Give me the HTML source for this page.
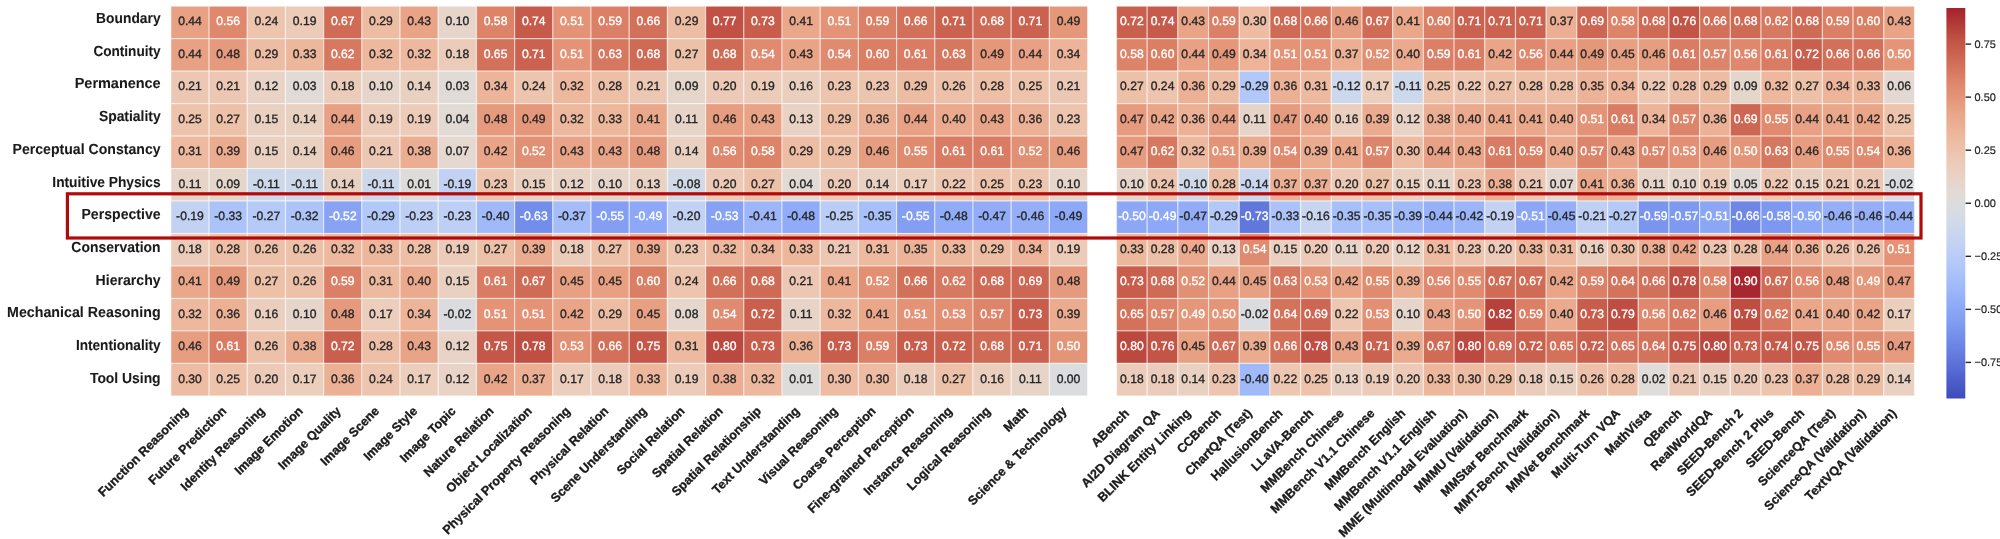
<!DOCTYPE html><html><head><meta charset="utf-8"><title>Heatmap</title>
<style>html,body{margin:0;padding:0;background:#fff}svg{display:block;filter:blur(.4px)}text{font-family:"Liberation Sans",Arial,Helvetica,sans-serif;text-rendering:geometricPrecision}.a{font-size:122.0px;text-anchor:middle;stroke-width:3.5px}.d{fill:#262626;stroke:#262626}.w{fill:#ffffff;stroke:#ffffff}.yl{font-size:147.0px;font-weight:bold;text-anchor:end;fill:#1a1a1a;stroke:#1a1a1a;stroke-width:.8px}.xl{font-size:126.0px;font-weight:bold;text-anchor:end;fill:#1a1a1a;stroke:#1a1a1a;stroke-width:3.5px}.cb{font-size:110px;fill:#262626;stroke:#262626;stroke-width:2px}</style></head><body>
<svg width="2000" height="539" viewBox="0 0 2000 539">
<rect width="2000" height="539" fill="#ffffff"/>
<g stroke="#ffffff" stroke-width="1.2" stroke-opacity="0.5"><rect x="170.90" y="6.20" width="38.20" height="32.48" fill="#e8a184"/><rect x="209.10" y="6.20" width="38.20" height="32.48" fill="#df886d"/><rect x="247.29" y="6.20" width="38.20" height="32.48" fill="#edc4ae"/><rect x="285.49" y="6.20" width="38.20" height="32.48" fill="#eccbb8"/><rect x="323.68" y="6.20" width="38.20" height="32.48" fill="#d06c56"/><rect x="361.88" y="6.20" width="38.20" height="32.48" fill="#edbda3"/><rect x="400.08" y="6.20" width="38.20" height="32.48" fill="#e9a487"/><rect x="438.27" y="6.20" width="38.20" height="32.48" fill="#e6d5cb"/><rect x="476.47" y="6.20" width="38.20" height="32.48" fill="#dd8368"/><rect x="514.66" y="6.20" width="38.20" height="32.48" fill="#c75b4b"/><rect x="552.86" y="6.20" width="38.20" height="32.48" fill="#e49377"/><rect x="591.05" y="6.20" width="38.20" height="32.48" fill="#db8066"/><rect x="629.25" y="6.20" width="38.20" height="32.48" fill="#d27059"/><rect x="667.45" y="6.20" width="38.20" height="32.48" fill="#edbda3"/><rect x="705.64" y="6.20" width="38.20" height="32.48" fill="#c05144"/><rect x="743.84" y="6.20" width="38.20" height="32.48" fill="#c85d4c"/><rect x="782.03" y="6.20" width="38.20" height="32.48" fill="#eaa78a"/><rect x="820.23" y="6.20" width="38.20" height="32.48" fill="#e49377"/><rect x="858.42" y="6.20" width="38.20" height="32.48" fill="#db8066"/><rect x="896.62" y="6.20" width="38.20" height="32.48" fill="#d27059"/><rect x="934.82" y="6.20" width="38.20" height="32.48" fill="#cb6250"/><rect x="973.01" y="6.20" width="38.20" height="32.48" fill="#cf6a55"/><rect x="1011.21" y="6.20" width="38.20" height="32.48" fill="#cb6250"/><rect x="1049.40" y="6.20" width="38.20" height="32.48" fill="#e5977a"/><rect x="170.90" y="38.68" width="38.20" height="32.48" fill="#e8a184"/><rect x="209.10" y="38.68" width="38.20" height="32.48" fill="#e69a7d"/><rect x="247.29" y="38.68" width="38.20" height="32.48" fill="#edbda3"/><rect x="285.49" y="38.68" width="38.20" height="32.48" fill="#edb79c"/><rect x="323.68" y="38.68" width="38.20" height="32.48" fill="#d77960"/><rect x="361.88" y="38.68" width="38.20" height="32.48" fill="#edb89d"/><rect x="400.08" y="38.68" width="38.20" height="32.48" fill="#edb89d"/><rect x="438.27" y="38.68" width="38.20" height="32.48" fill="#ebccba"/><rect x="476.47" y="38.68" width="38.20" height="32.48" fill="#d3715b"/><rect x="514.66" y="38.68" width="38.20" height="32.48" fill="#cb6250"/><rect x="552.86" y="38.68" width="38.20" height="32.48" fill="#e49377"/><rect x="591.05" y="38.68" width="38.20" height="32.48" fill="#d6775f"/><rect x="629.25" y="38.68" width="38.20" height="32.48" fill="#cf6a55"/><rect x="667.45" y="38.68" width="38.20" height="32.48" fill="#edc0a8"/><rect x="705.64" y="38.68" width="38.20" height="32.48" fill="#cf6a55"/><rect x="743.84" y="38.68" width="38.20" height="32.48" fill="#e08b70"/><rect x="782.03" y="38.68" width="38.20" height="32.48" fill="#e9a487"/><rect x="820.23" y="38.68" width="38.20" height="32.48" fill="#e08b70"/><rect x="858.42" y="38.68" width="38.20" height="32.48" fill="#da7e64"/><rect x="896.62" y="38.68" width="38.20" height="32.48" fill="#d97c63"/><rect x="934.82" y="38.68" width="38.20" height="32.48" fill="#d6775f"/><rect x="973.01" y="38.68" width="38.20" height="32.48" fill="#e5977a"/><rect x="1011.21" y="38.68" width="38.20" height="32.48" fill="#e8a184"/><rect x="1049.40" y="38.68" width="38.20" height="32.48" fill="#edb499"/><rect x="170.90" y="71.15" width="38.20" height="32.48" fill="#ecc8b4"/><rect x="209.10" y="71.15" width="38.20" height="32.48" fill="#ecc8b4"/><rect x="247.29" y="71.15" width="38.20" height="32.48" fill="#e8d3c6"/><rect x="285.49" y="71.15" width="38.20" height="32.48" fill="#e0dbd7"/><rect x="323.68" y="71.15" width="38.20" height="32.48" fill="#ebccba"/><rect x="361.88" y="71.15" width="38.20" height="32.48" fill="#e6d5cb"/><rect x="400.08" y="71.15" width="38.20" height="32.48" fill="#e9d1c2"/><rect x="438.27" y="71.15" width="38.20" height="32.48" fill="#e0dbd7"/><rect x="476.47" y="71.15" width="38.20" height="32.48" fill="#edb499"/><rect x="514.66" y="71.15" width="38.20" height="32.48" fill="#edc4ae"/><rect x="552.86" y="71.15" width="38.20" height="32.48" fill="#edb89d"/><rect x="591.05" y="71.15" width="38.20" height="32.48" fill="#edbfa6"/><rect x="629.25" y="71.15" width="38.20" height="32.48" fill="#ecc8b4"/><rect x="667.45" y="71.15" width="38.20" height="32.48" fill="#e5d6cc"/><rect x="705.64" y="71.15" width="38.20" height="32.48" fill="#eccab7"/><rect x="743.84" y="71.15" width="38.20" height="32.48" fill="#eccbb8"/><rect x="782.03" y="71.15" width="38.20" height="32.48" fill="#eacfbe"/><rect x="820.23" y="71.15" width="38.20" height="32.48" fill="#edc5af"/><rect x="858.42" y="71.15" width="38.20" height="32.48" fill="#edc5af"/><rect x="896.62" y="71.15" width="38.20" height="32.48" fill="#edbda3"/><rect x="934.82" y="71.15" width="38.20" height="32.48" fill="#edc1a9"/><rect x="973.01" y="71.15" width="38.20" height="32.48" fill="#edbfa6"/><rect x="1011.21" y="71.15" width="38.20" height="32.48" fill="#edc3ac"/><rect x="1049.40" y="71.15" width="38.20" height="32.48" fill="#ecc8b4"/><rect x="170.90" y="103.63" width="38.20" height="32.48" fill="#edc3ac"/><rect x="209.10" y="103.63" width="38.20" height="32.48" fill="#edc0a8"/><rect x="247.29" y="103.63" width="38.20" height="32.48" fill="#e9d0c1"/><rect x="285.49" y="103.63" width="38.20" height="32.48" fill="#e9d1c2"/><rect x="323.68" y="103.63" width="38.20" height="32.48" fill="#e8a184"/><rect x="361.88" y="103.63" width="38.20" height="32.48" fill="#eccbb8"/><rect x="400.08" y="103.63" width="38.20" height="32.48" fill="#eccbb8"/><rect x="438.27" y="103.63" width="38.20" height="32.48" fill="#e1dad5"/><rect x="476.47" y="103.63" width="38.20" height="32.48" fill="#e69a7d"/><rect x="514.66" y="103.63" width="38.20" height="32.48" fill="#e5977a"/><rect x="552.86" y="103.63" width="38.20" height="32.48" fill="#edb89d"/><rect x="591.05" y="103.63" width="38.20" height="32.48" fill="#edb79c"/><rect x="629.25" y="103.63" width="38.20" height="32.48" fill="#eaa78a"/><rect x="667.45" y="103.63" width="38.20" height="32.48" fill="#e7d4c8"/><rect x="705.64" y="103.63" width="38.20" height="32.48" fill="#e79d80"/><rect x="743.84" y="103.63" width="38.20" height="32.48" fill="#e9a487"/><rect x="782.03" y="103.63" width="38.20" height="32.48" fill="#e9d2c4"/><rect x="820.23" y="103.63" width="38.20" height="32.48" fill="#edbda3"/><rect x="858.42" y="103.63" width="38.20" height="32.48" fill="#ecb095"/><rect x="896.62" y="103.63" width="38.20" height="32.48" fill="#e8a184"/><rect x="934.82" y="103.63" width="38.20" height="32.48" fill="#ebaa8d"/><rect x="973.01" y="103.63" width="38.20" height="32.48" fill="#e9a487"/><rect x="1011.21" y="103.63" width="38.20" height="32.48" fill="#ecb095"/><rect x="1049.40" y="103.63" width="38.20" height="32.48" fill="#edc5af"/><rect x="170.90" y="136.10" width="38.20" height="32.48" fill="#edb99f"/><rect x="209.10" y="136.10" width="38.20" height="32.48" fill="#ebab8f"/><rect x="247.29" y="136.10" width="38.20" height="32.48" fill="#e9d0c1"/><rect x="285.49" y="136.10" width="38.20" height="32.48" fill="#e9d1c2"/><rect x="323.68" y="136.10" width="38.20" height="32.48" fill="#e79d80"/><rect x="361.88" y="136.10" width="38.20" height="32.48" fill="#ecc8b4"/><rect x="400.08" y="136.10" width="38.20" height="32.48" fill="#ecae92"/><rect x="438.27" y="136.10" width="38.20" height="32.48" fill="#e4d8d0"/><rect x="476.47" y="136.10" width="38.20" height="32.48" fill="#eaa589"/><rect x="514.66" y="136.10" width="38.20" height="32.48" fill="#e29074"/><rect x="552.86" y="136.10" width="38.20" height="32.48" fill="#e9a487"/><rect x="591.05" y="136.10" width="38.20" height="32.48" fill="#e9a487"/><rect x="629.25" y="136.10" width="38.20" height="32.48" fill="#e69a7d"/><rect x="667.45" y="136.10" width="38.20" height="32.48" fill="#e9d1c2"/><rect x="705.64" y="136.10" width="38.20" height="32.48" fill="#df886d"/><rect x="743.84" y="136.10" width="38.20" height="32.48" fill="#dd8368"/><rect x="782.03" y="136.10" width="38.20" height="32.48" fill="#edbda3"/><rect x="820.23" y="136.10" width="38.20" height="32.48" fill="#edbda3"/><rect x="858.42" y="136.10" width="38.20" height="32.48" fill="#e79d80"/><rect x="896.62" y="136.10" width="38.20" height="32.48" fill="#e08a6e"/><rect x="934.82" y="136.10" width="38.20" height="32.48" fill="#d97c63"/><rect x="973.01" y="136.10" width="38.20" height="32.48" fill="#d97c63"/><rect x="1011.21" y="136.10" width="38.20" height="32.48" fill="#e29074"/><rect x="1049.40" y="136.10" width="38.20" height="32.48" fill="#e79d80"/><rect x="170.90" y="168.57" width="38.20" height="32.48" fill="#e7d4c8"/><rect x="209.10" y="168.57" width="38.20" height="32.48" fill="#e5d6cc"/><rect x="247.29" y="168.57" width="38.20" height="32.48" fill="#ced8eb"/><rect x="285.49" y="168.57" width="38.20" height="32.48" fill="#ced8eb"/><rect x="323.68" y="168.57" width="38.20" height="32.48" fill="#e9d1c2"/><rect x="361.88" y="168.57" width="38.20" height="32.48" fill="#ced8eb"/><rect x="400.08" y="168.57" width="38.20" height="32.48" fill="#dedcdb"/><rect x="438.27" y="168.57" width="38.20" height="32.48" fill="#c3d2f3"/><rect x="476.47" y="168.57" width="38.20" height="32.48" fill="#edc5af"/><rect x="514.66" y="168.57" width="38.20" height="32.48" fill="#e9d0c1"/><rect x="552.86" y="168.57" width="38.20" height="32.48" fill="#e8d3c6"/><rect x="591.05" y="168.57" width="38.20" height="32.48" fill="#e6d5cb"/><rect x="629.25" y="168.57" width="38.20" height="32.48" fill="#e9d2c4"/><rect x="667.45" y="168.57" width="38.20" height="32.48" fill="#d2dae8"/><rect x="705.64" y="168.57" width="38.20" height="32.48" fill="#eccab7"/><rect x="743.84" y="168.57" width="38.20" height="32.48" fill="#edc0a8"/><rect x="782.03" y="168.57" width="38.20" height="32.48" fill="#e1dad5"/><rect x="820.23" y="168.57" width="38.20" height="32.48" fill="#eccab7"/><rect x="858.42" y="168.57" width="38.20" height="32.48" fill="#e9d1c2"/><rect x="896.62" y="168.57" width="38.20" height="32.48" fill="#ebcebc"/><rect x="934.82" y="168.57" width="38.20" height="32.48" fill="#edc7b2"/><rect x="973.01" y="168.57" width="38.20" height="32.48" fill="#edc3ac"/><rect x="1011.21" y="168.57" width="38.20" height="32.48" fill="#edc5af"/><rect x="1049.40" y="168.57" width="38.20" height="32.48" fill="#e6d5cb"/><rect x="170.90" y="201.05" width="38.20" height="32.48" fill="#c3d2f3"/><rect x="209.10" y="201.05" width="38.20" height="32.48" fill="#acc3f9"/><rect x="247.29" y="201.05" width="38.20" height="32.48" fill="#b6caf7"/><rect x="285.49" y="201.05" width="38.20" height="32.48" fill="#adc4f9"/><rect x="323.68" y="201.05" width="38.20" height="32.48" fill="#88a3f4"/><rect x="361.88" y="201.05" width="38.20" height="32.48" fill="#b2c8f8"/><rect x="400.08" y="201.05" width="38.20" height="32.48" fill="#bdcff5"/><rect x="438.27" y="201.05" width="38.20" height="32.48" fill="#bdcff5"/><rect x="476.47" y="201.05" width="38.20" height="32.48" fill="#9fb9f9"/><rect x="514.66" y="201.05" width="38.20" height="32.48" fill="#738eea"/><rect x="552.86" y="201.05" width="38.20" height="32.48" fill="#a4bdf9"/><rect x="591.05" y="201.05" width="38.20" height="32.48" fill="#839ef2"/><rect x="629.25" y="201.05" width="38.20" height="32.48" fill="#8da8f6"/><rect x="667.45" y="201.05" width="38.20" height="32.48" fill="#c2d2f3"/><rect x="705.64" y="201.05" width="38.20" height="32.48" fill="#87a2f4"/><rect x="743.84" y="201.05" width="38.20" height="32.48" fill="#9cb6f9"/><rect x="782.03" y="201.05" width="38.20" height="32.48" fill="#90abf7"/><rect x="820.23" y="201.05" width="38.20" height="32.48" fill="#b9cdf6"/><rect x="858.42" y="201.05" width="38.20" height="32.48" fill="#a8c0fa"/><rect x="896.62" y="201.05" width="38.20" height="32.48" fill="#839ef2"/><rect x="934.82" y="201.05" width="38.20" height="32.48" fill="#90abf7"/><rect x="973.01" y="201.05" width="38.20" height="32.48" fill="#92acf7"/><rect x="1011.21" y="201.05" width="38.20" height="32.48" fill="#94aff8"/><rect x="1049.40" y="201.05" width="38.20" height="32.48" fill="#8da8f6"/><rect x="170.90" y="233.53" width="38.20" height="32.48" fill="#ebccba"/><rect x="209.10" y="233.53" width="38.20" height="32.48" fill="#edbfa6"/><rect x="247.29" y="233.53" width="38.20" height="32.48" fill="#edc1a9"/><rect x="285.49" y="233.53" width="38.20" height="32.48" fill="#edc1a9"/><rect x="323.68" y="233.53" width="38.20" height="32.48" fill="#edb89d"/><rect x="361.88" y="233.53" width="38.20" height="32.48" fill="#edb79c"/><rect x="400.08" y="233.53" width="38.20" height="32.48" fill="#edbfa6"/><rect x="438.27" y="233.53" width="38.20" height="32.48" fill="#eccbb8"/><rect x="476.47" y="233.53" width="38.20" height="32.48" fill="#edc0a8"/><rect x="514.66" y="233.53" width="38.20" height="32.48" fill="#ebab8f"/><rect x="552.86" y="233.53" width="38.20" height="32.48" fill="#ebccba"/><rect x="591.05" y="233.53" width="38.20" height="32.48" fill="#edc0a8"/><rect x="629.25" y="233.53" width="38.20" height="32.48" fill="#ebab8f"/><rect x="667.45" y="233.53" width="38.20" height="32.48" fill="#edc5af"/><rect x="705.64" y="233.53" width="38.20" height="32.48" fill="#edb89d"/><rect x="743.84" y="233.53" width="38.20" height="32.48" fill="#edb499"/><rect x="782.03" y="233.53" width="38.20" height="32.48" fill="#edb79c"/><rect x="820.23" y="233.53" width="38.20" height="32.48" fill="#ecc8b4"/><rect x="858.42" y="233.53" width="38.20" height="32.48" fill="#edb99f"/><rect x="896.62" y="233.53" width="38.20" height="32.48" fill="#edb398"/><rect x="934.82" y="233.53" width="38.20" height="32.48" fill="#edb79c"/><rect x="973.01" y="233.53" width="38.20" height="32.48" fill="#edbda3"/><rect x="1011.21" y="233.53" width="38.20" height="32.48" fill="#edb499"/><rect x="1049.40" y="233.53" width="38.20" height="32.48" fill="#eccbb8"/><rect x="170.90" y="266.00" width="38.20" height="32.48" fill="#eaa78a"/><rect x="209.10" y="266.00" width="38.20" height="32.48" fill="#e5977a"/><rect x="247.29" y="266.00" width="38.20" height="32.48" fill="#edc0a8"/><rect x="285.49" y="266.00" width="38.20" height="32.48" fill="#edc1a9"/><rect x="323.68" y="266.00" width="38.20" height="32.48" fill="#db8066"/><rect x="361.88" y="266.00" width="38.20" height="32.48" fill="#edb99f"/><rect x="400.08" y="266.00" width="38.20" height="32.48" fill="#ebaa8d"/><rect x="438.27" y="266.00" width="38.20" height="32.48" fill="#e9d0c1"/><rect x="476.47" y="266.00" width="38.20" height="32.48" fill="#d97c63"/><rect x="514.66" y="266.00" width="38.20" height="32.48" fill="#d06c56"/><rect x="552.86" y="266.00" width="38.20" height="32.48" fill="#e8a083"/><rect x="591.05" y="266.00" width="38.20" height="32.48" fill="#e8a083"/><rect x="629.25" y="266.00" width="38.20" height="32.48" fill="#da7e64"/><rect x="667.45" y="266.00" width="38.20" height="32.48" fill="#edc4ae"/><rect x="705.64" y="266.00" width="38.20" height="32.48" fill="#d27059"/><rect x="743.84" y="266.00" width="38.20" height="32.48" fill="#cf6a55"/><rect x="782.03" y="266.00" width="38.20" height="32.48" fill="#ecc8b4"/><rect x="820.23" y="266.00" width="38.20" height="32.48" fill="#eaa78a"/><rect x="858.42" y="266.00" width="38.20" height="32.48" fill="#e29074"/><rect x="896.62" y="266.00" width="38.20" height="32.48" fill="#d27059"/><rect x="934.82" y="266.00" width="38.20" height="32.48" fill="#d77960"/><rect x="973.01" y="266.00" width="38.20" height="32.48" fill="#cf6a55"/><rect x="1011.21" y="266.00" width="38.20" height="32.48" fill="#cd6652"/><rect x="1049.40" y="266.00" width="38.20" height="32.48" fill="#e69a7d"/><rect x="170.90" y="298.48" width="38.20" height="32.48" fill="#edb89d"/><rect x="209.10" y="298.48" width="38.20" height="32.48" fill="#ecb095"/><rect x="247.29" y="298.48" width="38.20" height="32.48" fill="#eacfbe"/><rect x="285.49" y="298.48" width="38.20" height="32.48" fill="#e6d5cb"/><rect x="323.68" y="298.48" width="38.20" height="32.48" fill="#e69a7d"/><rect x="361.88" y="298.48" width="38.20" height="32.48" fill="#ebcebc"/><rect x="400.08" y="298.48" width="38.20" height="32.48" fill="#edb499"/><rect x="438.27" y="298.48" width="38.20" height="32.48" fill="#dadcdf"/><rect x="476.47" y="298.48" width="38.20" height="32.48" fill="#e49377"/><rect x="514.66" y="298.48" width="38.20" height="32.48" fill="#e49377"/><rect x="552.86" y="298.48" width="38.20" height="32.48" fill="#eaa589"/><rect x="591.05" y="298.48" width="38.20" height="32.48" fill="#edbda3"/><rect x="629.25" y="298.48" width="38.20" height="32.48" fill="#e8a083"/><rect x="667.45" y="298.48" width="38.20" height="32.48" fill="#e5d7cd"/><rect x="705.64" y="298.48" width="38.20" height="32.48" fill="#e08b70"/><rect x="743.84" y="298.48" width="38.20" height="32.48" fill="#c95f4d"/><rect x="782.03" y="298.48" width="38.20" height="32.48" fill="#e7d4c8"/><rect x="820.23" y="298.48" width="38.20" height="32.48" fill="#edb89d"/><rect x="858.42" y="298.48" width="38.20" height="32.48" fill="#eaa78a"/><rect x="896.62" y="298.48" width="38.20" height="32.48" fill="#e49377"/><rect x="934.82" y="298.48" width="38.20" height="32.48" fill="#e28f73"/><rect x="973.01" y="298.48" width="38.20" height="32.48" fill="#dd856a"/><rect x="1011.21" y="298.48" width="38.20" height="32.48" fill="#c85d4c"/><rect x="1049.40" y="298.48" width="38.20" height="32.48" fill="#ebab8f"/><rect x="170.90" y="330.95" width="38.20" height="32.48" fill="#e79d80"/><rect x="209.10" y="330.95" width="38.20" height="32.48" fill="#d97c63"/><rect x="247.29" y="330.95" width="38.20" height="32.48" fill="#edc1a9"/><rect x="285.49" y="330.95" width="38.20" height="32.48" fill="#ecae92"/><rect x="323.68" y="330.95" width="38.20" height="32.48" fill="#c95f4d"/><rect x="361.88" y="330.95" width="38.20" height="32.48" fill="#edbfa6"/><rect x="400.08" y="330.95" width="38.20" height="32.48" fill="#e9a487"/><rect x="438.27" y="330.95" width="38.20" height="32.48" fill="#e8d3c6"/><rect x="476.47" y="330.95" width="38.20" height="32.48" fill="#c45748"/><rect x="514.66" y="330.95" width="38.20" height="32.48" fill="#bf4f43"/><rect x="552.86" y="330.95" width="38.20" height="32.48" fill="#e28f73"/><rect x="591.05" y="330.95" width="38.20" height="32.48" fill="#d27059"/><rect x="629.25" y="330.95" width="38.20" height="32.48" fill="#c45748"/><rect x="667.45" y="330.95" width="38.20" height="32.48" fill="#edb99f"/><rect x="705.64" y="330.95" width="38.20" height="32.48" fill="#bb493f"/><rect x="743.84" y="330.95" width="38.20" height="32.48" fill="#c85d4c"/><rect x="782.03" y="330.95" width="38.20" height="32.48" fill="#ecb095"/><rect x="820.23" y="330.95" width="38.20" height="32.48" fill="#c85d4c"/><rect x="858.42" y="330.95" width="38.20" height="32.48" fill="#db8066"/><rect x="896.62" y="330.95" width="38.20" height="32.48" fill="#c85d4c"/><rect x="934.82" y="330.95" width="38.20" height="32.48" fill="#c95f4d"/><rect x="973.01" y="330.95" width="38.20" height="32.48" fill="#cf6a55"/><rect x="1011.21" y="330.95" width="38.20" height="32.48" fill="#cb6250"/><rect x="1049.40" y="330.95" width="38.20" height="32.48" fill="#e49578"/><rect x="170.90" y="363.43" width="38.20" height="32.48" fill="#edbca2"/><rect x="209.10" y="363.43" width="38.20" height="32.48" fill="#edc3ac"/><rect x="247.29" y="363.43" width="38.20" height="32.48" fill="#eccab7"/><rect x="285.49" y="363.43" width="38.20" height="32.48" fill="#ebcebc"/><rect x="323.68" y="363.43" width="38.20" height="32.48" fill="#ecb095"/><rect x="361.88" y="363.43" width="38.20" height="32.48" fill="#edc4ae"/><rect x="400.08" y="363.43" width="38.20" height="32.48" fill="#ebcebc"/><rect x="438.27" y="363.43" width="38.20" height="32.48" fill="#e8d3c6"/><rect x="476.47" y="363.43" width="38.20" height="32.48" fill="#eaa589"/><rect x="514.66" y="363.43" width="38.20" height="32.48" fill="#ecaf93"/><rect x="552.86" y="363.43" width="38.20" height="32.48" fill="#ebcebc"/><rect x="591.05" y="363.43" width="38.20" height="32.48" fill="#ebccba"/><rect x="629.25" y="363.43" width="38.20" height="32.48" fill="#edb79c"/><rect x="667.45" y="363.43" width="38.20" height="32.48" fill="#eccbb8"/><rect x="705.64" y="363.43" width="38.20" height="32.48" fill="#ecae92"/><rect x="743.84" y="363.43" width="38.20" height="32.48" fill="#edb89d"/><rect x="782.03" y="363.43" width="38.20" height="32.48" fill="#dedcdb"/><rect x="820.23" y="363.43" width="38.20" height="32.48" fill="#edbca2"/><rect x="858.42" y="363.43" width="38.20" height="32.48" fill="#edbca2"/><rect x="896.62" y="363.43" width="38.20" height="32.48" fill="#ebccba"/><rect x="934.82" y="363.43" width="38.20" height="32.48" fill="#edc0a8"/><rect x="973.01" y="363.43" width="38.20" height="32.48" fill="#eacfbe"/><rect x="1011.21" y="363.43" width="38.20" height="32.48" fill="#e7d4c8"/><rect x="1049.40" y="363.43" width="38.20" height="32.48" fill="#dadcdf"/><rect x="1116.50" y="6.20" width="30.69" height="32.48" fill="#c95f4d"/><rect x="1147.19" y="6.20" width="30.69" height="32.48" fill="#c75b4b"/><rect x="1177.88" y="6.20" width="30.69" height="32.48" fill="#e9a487"/><rect x="1208.58" y="6.20" width="30.69" height="32.48" fill="#db8066"/><rect x="1239.27" y="6.20" width="30.69" height="32.48" fill="#edbca2"/><rect x="1269.96" y="6.20" width="30.69" height="32.48" fill="#cf6a55"/><rect x="1300.65" y="6.20" width="30.69" height="32.48" fill="#d27059"/><rect x="1331.35" y="6.20" width="30.69" height="32.48" fill="#e79d80"/><rect x="1362.04" y="6.20" width="30.69" height="32.48" fill="#d06c56"/><rect x="1392.73" y="6.20" width="30.69" height="32.48" fill="#eaa78a"/><rect x="1423.42" y="6.20" width="30.69" height="32.48" fill="#da7e64"/><rect x="1454.12" y="6.20" width="30.69" height="32.48" fill="#cb6250"/><rect x="1484.81" y="6.20" width="30.69" height="32.48" fill="#cb6250"/><rect x="1515.50" y="6.20" width="30.69" height="32.48" fill="#cb6250"/><rect x="1546.19" y="6.20" width="30.69" height="32.48" fill="#ecaf93"/><rect x="1576.88" y="6.20" width="30.69" height="32.48" fill="#cd6652"/><rect x="1607.58" y="6.20" width="30.69" height="32.48" fill="#dd8368"/><rect x="1638.27" y="6.20" width="30.69" height="32.48" fill="#cf6a55"/><rect x="1668.96" y="6.20" width="30.69" height="32.48" fill="#c35547"/><rect x="1699.65" y="6.20" width="30.69" height="32.48" fill="#d27059"/><rect x="1730.35" y="6.20" width="30.69" height="32.48" fill="#cf6a55"/><rect x="1761.04" y="6.20" width="30.69" height="32.48" fill="#d77960"/><rect x="1791.73" y="6.20" width="30.69" height="32.48" fill="#cf6a55"/><rect x="1822.42" y="6.20" width="30.69" height="32.48" fill="#db8066"/><rect x="1853.12" y="6.20" width="30.69" height="32.48" fill="#da7e64"/><rect x="1883.81" y="6.20" width="30.69" height="32.48" fill="#e9a487"/><rect x="1116.50" y="38.68" width="30.69" height="32.48" fill="#dd8368"/><rect x="1147.19" y="38.68" width="30.69" height="32.48" fill="#da7e64"/><rect x="1177.88" y="38.68" width="30.69" height="32.48" fill="#e8a184"/><rect x="1208.58" y="38.68" width="30.69" height="32.48" fill="#e5977a"/><rect x="1239.27" y="38.68" width="30.69" height="32.48" fill="#edb499"/><rect x="1269.96" y="38.68" width="30.69" height="32.48" fill="#e49377"/><rect x="1300.65" y="38.68" width="30.69" height="32.48" fill="#e49377"/><rect x="1331.35" y="38.68" width="30.69" height="32.48" fill="#ecaf93"/><rect x="1362.04" y="38.68" width="30.69" height="32.48" fill="#e29074"/><rect x="1392.73" y="38.68" width="30.69" height="32.48" fill="#ebaa8d"/><rect x="1423.42" y="38.68" width="30.69" height="32.48" fill="#db8066"/><rect x="1454.12" y="38.68" width="30.69" height="32.48" fill="#d97c63"/><rect x="1484.81" y="38.68" width="30.69" height="32.48" fill="#eaa589"/><rect x="1515.50" y="38.68" width="30.69" height="32.48" fill="#df886d"/><rect x="1546.19" y="38.68" width="30.69" height="32.48" fill="#e8a184"/><rect x="1576.88" y="38.68" width="30.69" height="32.48" fill="#e5977a"/><rect x="1607.58" y="38.68" width="30.69" height="32.48" fill="#e8a083"/><rect x="1638.27" y="38.68" width="30.69" height="32.48" fill="#e79d80"/><rect x="1668.96" y="38.68" width="30.69" height="32.48" fill="#d97c63"/><rect x="1699.65" y="38.68" width="30.69" height="32.48" fill="#dd856a"/><rect x="1730.35" y="38.68" width="30.69" height="32.48" fill="#df886d"/><rect x="1761.04" y="38.68" width="30.69" height="32.48" fill="#d97c63"/><rect x="1791.73" y="38.68" width="30.69" height="32.48" fill="#c95f4d"/><rect x="1822.42" y="38.68" width="30.69" height="32.48" fill="#d27059"/><rect x="1853.12" y="38.68" width="30.69" height="32.48" fill="#d27059"/><rect x="1883.81" y="38.68" width="30.69" height="32.48" fill="#e49578"/><rect x="1116.50" y="71.15" width="30.69" height="32.48" fill="#edc0a8"/><rect x="1147.19" y="71.15" width="30.69" height="32.48" fill="#edc4ae"/><rect x="1177.88" y="71.15" width="30.69" height="32.48" fill="#ecb095"/><rect x="1208.58" y="71.15" width="30.69" height="32.48" fill="#edbda3"/><rect x="1239.27" y="71.15" width="30.69" height="32.48" fill="#b2c8f8"/><rect x="1269.96" y="71.15" width="30.69" height="32.48" fill="#ecb095"/><rect x="1300.65" y="71.15" width="30.69" height="32.48" fill="#edb99f"/><rect x="1331.35" y="71.15" width="30.69" height="32.48" fill="#cdd8ec"/><rect x="1362.04" y="71.15" width="30.69" height="32.48" fill="#ebcebc"/><rect x="1392.73" y="71.15" width="30.69" height="32.48" fill="#ced8eb"/><rect x="1423.42" y="71.15" width="30.69" height="32.48" fill="#edc3ac"/><rect x="1454.12" y="71.15" width="30.69" height="32.48" fill="#edc7b2"/><rect x="1484.81" y="71.15" width="30.69" height="32.48" fill="#edc0a8"/><rect x="1515.50" y="71.15" width="30.69" height="32.48" fill="#edbfa6"/><rect x="1546.19" y="71.15" width="30.69" height="32.48" fill="#edbfa6"/><rect x="1576.88" y="71.15" width="30.69" height="32.48" fill="#edb398"/><rect x="1607.58" y="71.15" width="30.69" height="32.48" fill="#edb499"/><rect x="1638.27" y="71.15" width="30.69" height="32.48" fill="#edc7b2"/><rect x="1668.96" y="71.15" width="30.69" height="32.48" fill="#edbfa6"/><rect x="1699.65" y="71.15" width="30.69" height="32.48" fill="#edbda3"/><rect x="1730.35" y="71.15" width="30.69" height="32.48" fill="#e5d6cc"/><rect x="1761.04" y="71.15" width="30.69" height="32.48" fill="#edb89d"/><rect x="1791.73" y="71.15" width="30.69" height="32.48" fill="#edc0a8"/><rect x="1822.42" y="71.15" width="30.69" height="32.48" fill="#edb499"/><rect x="1853.12" y="71.15" width="30.69" height="32.48" fill="#edb79c"/><rect x="1883.81" y="71.15" width="30.69" height="32.48" fill="#e3d9d2"/><rect x="1116.50" y="103.63" width="30.69" height="32.48" fill="#e79b7e"/><rect x="1147.19" y="103.63" width="30.69" height="32.48" fill="#eaa589"/><rect x="1177.88" y="103.63" width="30.69" height="32.48" fill="#ecb095"/><rect x="1208.58" y="103.63" width="30.69" height="32.48" fill="#e8a184"/><rect x="1239.27" y="103.63" width="30.69" height="32.48" fill="#e7d4c8"/><rect x="1269.96" y="103.63" width="30.69" height="32.48" fill="#e79b7e"/><rect x="1300.65" y="103.63" width="30.69" height="32.48" fill="#ebaa8d"/><rect x="1331.35" y="103.63" width="30.69" height="32.48" fill="#eacfbe"/><rect x="1362.04" y="103.63" width="30.69" height="32.48" fill="#ebab8f"/><rect x="1392.73" y="103.63" width="30.69" height="32.48" fill="#e8d3c6"/><rect x="1423.42" y="103.63" width="30.69" height="32.48" fill="#ecae92"/><rect x="1454.12" y="103.63" width="30.69" height="32.48" fill="#ebaa8d"/><rect x="1484.81" y="103.63" width="30.69" height="32.48" fill="#eaa78a"/><rect x="1515.50" y="103.63" width="30.69" height="32.48" fill="#eaa78a"/><rect x="1546.19" y="103.63" width="30.69" height="32.48" fill="#ebaa8d"/><rect x="1576.88" y="103.63" width="30.69" height="32.48" fill="#e49377"/><rect x="1607.58" y="103.63" width="30.69" height="32.48" fill="#d97c63"/><rect x="1638.27" y="103.63" width="30.69" height="32.48" fill="#edb499"/><rect x="1668.96" y="103.63" width="30.69" height="32.48" fill="#dd856a"/><rect x="1699.65" y="103.63" width="30.69" height="32.48" fill="#ecb095"/><rect x="1730.35" y="103.63" width="30.69" height="32.48" fill="#cd6652"/><rect x="1761.04" y="103.63" width="30.69" height="32.48" fill="#e08a6e"/><rect x="1791.73" y="103.63" width="30.69" height="32.48" fill="#e8a184"/><rect x="1822.42" y="103.63" width="30.69" height="32.48" fill="#eaa78a"/><rect x="1853.12" y="103.63" width="30.69" height="32.48" fill="#eaa589"/><rect x="1883.81" y="103.63" width="30.69" height="32.48" fill="#edc3ac"/><rect x="1116.50" y="136.10" width="30.69" height="32.48" fill="#e79b7e"/><rect x="1147.19" y="136.10" width="30.69" height="32.48" fill="#d77960"/><rect x="1177.88" y="136.10" width="30.69" height="32.48" fill="#edb89d"/><rect x="1208.58" y="136.10" width="30.69" height="32.48" fill="#e49377"/><rect x="1239.27" y="136.10" width="30.69" height="32.48" fill="#ebab8f"/><rect x="1269.96" y="136.10" width="30.69" height="32.48" fill="#e08b70"/><rect x="1300.65" y="136.10" width="30.69" height="32.48" fill="#ebab8f"/><rect x="1331.35" y="136.10" width="30.69" height="32.48" fill="#eaa78a"/><rect x="1362.04" y="136.10" width="30.69" height="32.48" fill="#dd856a"/><rect x="1392.73" y="136.10" width="30.69" height="32.48" fill="#edbca2"/><rect x="1423.42" y="136.10" width="30.69" height="32.48" fill="#e8a184"/><rect x="1454.12" y="136.10" width="30.69" height="32.48" fill="#e9a487"/><rect x="1484.81" y="136.10" width="30.69" height="32.48" fill="#d97c63"/><rect x="1515.50" y="136.10" width="30.69" height="32.48" fill="#db8066"/><rect x="1546.19" y="136.10" width="30.69" height="32.48" fill="#ebaa8d"/><rect x="1576.88" y="136.10" width="30.69" height="32.48" fill="#dd856a"/><rect x="1607.58" y="136.10" width="30.69" height="32.48" fill="#e9a487"/><rect x="1638.27" y="136.10" width="30.69" height="32.48" fill="#dd856a"/><rect x="1668.96" y="136.10" width="30.69" height="32.48" fill="#e28f73"/><rect x="1699.65" y="136.10" width="30.69" height="32.48" fill="#e79d80"/><rect x="1730.35" y="136.10" width="30.69" height="32.48" fill="#e49578"/><rect x="1761.04" y="136.10" width="30.69" height="32.48" fill="#d6775f"/><rect x="1791.73" y="136.10" width="30.69" height="32.48" fill="#e79d80"/><rect x="1822.42" y="136.10" width="30.69" height="32.48" fill="#e08a6e"/><rect x="1853.12" y="136.10" width="30.69" height="32.48" fill="#e08b70"/><rect x="1883.81" y="136.10" width="30.69" height="32.48" fill="#ecb095"/><rect x="1116.50" y="168.57" width="30.69" height="32.48" fill="#e6d5cb"/><rect x="1147.19" y="168.57" width="30.69" height="32.48" fill="#edc4ae"/><rect x="1177.88" y="168.57" width="30.69" height="32.48" fill="#d0d9ea"/><rect x="1208.58" y="168.57" width="30.69" height="32.48" fill="#edbfa6"/><rect x="1239.27" y="168.57" width="30.69" height="32.48" fill="#cad6ee"/><rect x="1269.96" y="168.57" width="30.69" height="32.48" fill="#ecaf93"/><rect x="1300.65" y="168.57" width="30.69" height="32.48" fill="#ecaf93"/><rect x="1331.35" y="168.57" width="30.69" height="32.48" fill="#eccab7"/><rect x="1362.04" y="168.57" width="30.69" height="32.48" fill="#edc0a8"/><rect x="1392.73" y="168.57" width="30.69" height="32.48" fill="#e9d0c1"/><rect x="1423.42" y="168.57" width="30.69" height="32.48" fill="#e7d4c8"/><rect x="1454.12" y="168.57" width="30.69" height="32.48" fill="#edc5af"/><rect x="1484.81" y="168.57" width="30.69" height="32.48" fill="#ecae92"/><rect x="1515.50" y="168.57" width="30.69" height="32.48" fill="#ecc8b4"/><rect x="1546.19" y="168.57" width="30.69" height="32.48" fill="#e4d8d0"/><rect x="1576.88" y="168.57" width="30.69" height="32.48" fill="#eaa78a"/><rect x="1607.58" y="168.57" width="30.69" height="32.48" fill="#ecb095"/><rect x="1638.27" y="168.57" width="30.69" height="32.48" fill="#e7d4c8"/><rect x="1668.96" y="168.57" width="30.69" height="32.48" fill="#e6d5cb"/><rect x="1699.65" y="168.57" width="30.69" height="32.48" fill="#eccbb8"/><rect x="1730.35" y="168.57" width="30.69" height="32.48" fill="#e2dad4"/><rect x="1761.04" y="168.57" width="30.69" height="32.48" fill="#edc7b2"/><rect x="1791.73" y="168.57" width="30.69" height="32.48" fill="#e9d0c1"/><rect x="1822.42" y="168.57" width="30.69" height="32.48" fill="#ecc8b4"/><rect x="1853.12" y="168.57" width="30.69" height="32.48" fill="#ecc8b4"/><rect x="1883.81" y="168.57" width="30.69" height="32.48" fill="#dadcdf"/><rect x="1116.50" y="201.05" width="30.69" height="32.48" fill="#8ca7f6"/><rect x="1147.19" y="201.05" width="30.69" height="32.48" fill="#8da8f6"/><rect x="1177.88" y="201.05" width="30.69" height="32.48" fill="#92acf7"/><rect x="1208.58" y="201.05" width="30.69" height="32.48" fill="#b2c8f8"/><rect x="1239.27" y="201.05" width="30.69" height="32.48" fill="#6078dc"/><rect x="1269.96" y="201.05" width="30.69" height="32.48" fill="#acc3f9"/><rect x="1300.65" y="201.05" width="30.69" height="32.48" fill="#c7d5f0"/><rect x="1331.35" y="201.05" width="30.69" height="32.48" fill="#a8c0fa"/><rect x="1362.04" y="201.05" width="30.69" height="32.48" fill="#a8c0fa"/><rect x="1392.73" y="201.05" width="30.69" height="32.48" fill="#a0baf9"/><rect x="1423.42" y="201.05" width="30.69" height="32.48" fill="#97b1f8"/><rect x="1454.12" y="201.05" width="30.69" height="32.48" fill="#9bb5f9"/><rect x="1484.81" y="201.05" width="30.69" height="32.48" fill="#c3d2f3"/><rect x="1515.50" y="201.05" width="30.69" height="32.48" fill="#8ba6f5"/><rect x="1546.19" y="201.05" width="30.69" height="32.48" fill="#96b0f8"/><rect x="1576.88" y="201.05" width="30.69" height="32.48" fill="#bfd0f4"/><rect x="1607.58" y="201.05" width="30.69" height="32.48" fill="#b6caf7"/><rect x="1638.27" y="201.05" width="30.69" height="32.48" fill="#7a95ee"/><rect x="1668.96" y="201.05" width="30.69" height="32.48" fill="#7e99f0"/><rect x="1699.65" y="201.05" width="30.69" height="32.48" fill="#8ba6f5"/><rect x="1730.35" y="201.05" width="30.69" height="32.48" fill="#6e87e7"/><rect x="1761.04" y="201.05" width="30.69" height="32.48" fill="#7d98f0"/><rect x="1791.73" y="201.05" width="30.69" height="32.48" fill="#8ca7f6"/><rect x="1822.42" y="201.05" width="30.69" height="32.48" fill="#94aff8"/><rect x="1853.12" y="201.05" width="30.69" height="32.48" fill="#94aff8"/><rect x="1883.81" y="201.05" width="30.69" height="32.48" fill="#97b1f8"/><rect x="1116.50" y="233.53" width="30.69" height="32.48" fill="#edb79c"/><rect x="1147.19" y="233.53" width="30.69" height="32.48" fill="#edbfa6"/><rect x="1177.88" y="233.53" width="30.69" height="32.48" fill="#ebaa8d"/><rect x="1208.58" y="233.53" width="30.69" height="32.48" fill="#e9d2c4"/><rect x="1239.27" y="233.53" width="30.69" height="32.48" fill="#e08b70"/><rect x="1269.96" y="233.53" width="30.69" height="32.48" fill="#e9d0c1"/><rect x="1300.65" y="233.53" width="30.69" height="32.48" fill="#eccab7"/><rect x="1331.35" y="233.53" width="30.69" height="32.48" fill="#e7d4c8"/><rect x="1362.04" y="233.53" width="30.69" height="32.48" fill="#eccab7"/><rect x="1392.73" y="233.53" width="30.69" height="32.48" fill="#e8d3c6"/><rect x="1423.42" y="233.53" width="30.69" height="32.48" fill="#edb99f"/><rect x="1454.12" y="233.53" width="30.69" height="32.48" fill="#edc5af"/><rect x="1484.81" y="233.53" width="30.69" height="32.48" fill="#eccab7"/><rect x="1515.50" y="233.53" width="30.69" height="32.48" fill="#edb79c"/><rect x="1546.19" y="233.53" width="30.69" height="32.48" fill="#edb99f"/><rect x="1576.88" y="233.53" width="30.69" height="32.48" fill="#eacfbe"/><rect x="1607.58" y="233.53" width="30.69" height="32.48" fill="#edbca2"/><rect x="1638.27" y="233.53" width="30.69" height="32.48" fill="#ecae92"/><rect x="1668.96" y="233.53" width="30.69" height="32.48" fill="#eaa589"/><rect x="1699.65" y="233.53" width="30.69" height="32.48" fill="#edc5af"/><rect x="1730.35" y="233.53" width="30.69" height="32.48" fill="#edbfa6"/><rect x="1761.04" y="233.53" width="30.69" height="32.48" fill="#e8a184"/><rect x="1791.73" y="233.53" width="30.69" height="32.48" fill="#ecb095"/><rect x="1822.42" y="233.53" width="30.69" height="32.48" fill="#edc1a9"/><rect x="1853.12" y="233.53" width="30.69" height="32.48" fill="#edc1a9"/><rect x="1883.81" y="233.53" width="30.69" height="32.48" fill="#e49377"/><rect x="1116.50" y="266.00" width="30.69" height="32.48" fill="#c85d4c"/><rect x="1147.19" y="266.00" width="30.69" height="32.48" fill="#cf6a55"/><rect x="1177.88" y="266.00" width="30.69" height="32.48" fill="#e29074"/><rect x="1208.58" y="266.00" width="30.69" height="32.48" fill="#e8a184"/><rect x="1239.27" y="266.00" width="30.69" height="32.48" fill="#e8a083"/><rect x="1269.96" y="266.00" width="30.69" height="32.48" fill="#d6775f"/><rect x="1300.65" y="266.00" width="30.69" height="32.48" fill="#e28f73"/><rect x="1331.35" y="266.00" width="30.69" height="32.48" fill="#eaa589"/><rect x="1362.04" y="266.00" width="30.69" height="32.48" fill="#e08a6e"/><rect x="1392.73" y="266.00" width="30.69" height="32.48" fill="#ebab8f"/><rect x="1423.42" y="266.00" width="30.69" height="32.48" fill="#df886d"/><rect x="1454.12" y="266.00" width="30.69" height="32.48" fill="#e08a6e"/><rect x="1484.81" y="266.00" width="30.69" height="32.48" fill="#d06c56"/><rect x="1515.50" y="266.00" width="30.69" height="32.48" fill="#d06c56"/><rect x="1546.19" y="266.00" width="30.69" height="32.48" fill="#eaa589"/><rect x="1576.88" y="266.00" width="30.69" height="32.48" fill="#db8066"/><rect x="1607.58" y="266.00" width="30.69" height="32.48" fill="#d4735c"/><rect x="1638.27" y="266.00" width="30.69" height="32.48" fill="#d27059"/><rect x="1668.96" y="266.00" width="30.69" height="32.48" fill="#bf4f43"/><rect x="1699.65" y="266.00" width="30.69" height="32.48" fill="#dd8368"/><rect x="1730.35" y="266.00" width="30.69" height="32.48" fill="#a8262f"/><rect x="1761.04" y="266.00" width="30.69" height="32.48" fill="#d06c56"/><rect x="1791.73" y="266.00" width="30.69" height="32.48" fill="#df886d"/><rect x="1822.42" y="266.00" width="30.69" height="32.48" fill="#e69a7d"/><rect x="1853.12" y="266.00" width="30.69" height="32.48" fill="#e5977a"/><rect x="1883.81" y="266.00" width="30.69" height="32.48" fill="#e79b7e"/><rect x="1116.50" y="298.48" width="30.69" height="32.48" fill="#d3715b"/><rect x="1147.19" y="298.48" width="30.69" height="32.48" fill="#dd856a"/><rect x="1177.88" y="298.48" width="30.69" height="32.48" fill="#e5977a"/><rect x="1208.58" y="298.48" width="30.69" height="32.48" fill="#e49578"/><rect x="1239.27" y="298.48" width="30.69" height="32.48" fill="#dadcdf"/><rect x="1269.96" y="298.48" width="30.69" height="32.48" fill="#d4735c"/><rect x="1300.65" y="298.48" width="30.69" height="32.48" fill="#cd6652"/><rect x="1331.35" y="298.48" width="30.69" height="32.48" fill="#edc7b2"/><rect x="1362.04" y="298.48" width="30.69" height="32.48" fill="#e28f73"/><rect x="1392.73" y="298.48" width="30.69" height="32.48" fill="#e6d5cb"/><rect x="1423.42" y="298.48" width="30.69" height="32.48" fill="#e9a487"/><rect x="1454.12" y="298.48" width="30.69" height="32.48" fill="#e49578"/><rect x="1484.81" y="298.48" width="30.69" height="32.48" fill="#b7423c"/><rect x="1515.50" y="298.48" width="30.69" height="32.48" fill="#db8066"/><rect x="1546.19" y="298.48" width="30.69" height="32.48" fill="#ebaa8d"/><rect x="1576.88" y="298.48" width="30.69" height="32.48" fill="#c85d4c"/><rect x="1607.58" y="298.48" width="30.69" height="32.48" fill="#be4d42"/><rect x="1638.27" y="298.48" width="30.69" height="32.48" fill="#df886d"/><rect x="1668.96" y="298.48" width="30.69" height="32.48" fill="#d77960"/><rect x="1699.65" y="298.48" width="30.69" height="32.48" fill="#e79d80"/><rect x="1730.35" y="298.48" width="30.69" height="32.48" fill="#be4d42"/><rect x="1761.04" y="298.48" width="30.69" height="32.48" fill="#d77960"/><rect x="1791.73" y="298.48" width="30.69" height="32.48" fill="#eaa78a"/><rect x="1822.42" y="298.48" width="30.69" height="32.48" fill="#ebaa8d"/><rect x="1853.12" y="298.48" width="30.69" height="32.48" fill="#eaa589"/><rect x="1883.81" y="298.48" width="30.69" height="32.48" fill="#ebcebc"/><rect x="1116.50" y="330.95" width="30.69" height="32.48" fill="#bb493f"/><rect x="1147.19" y="330.95" width="30.69" height="32.48" fill="#c35547"/><rect x="1177.88" y="330.95" width="30.69" height="32.48" fill="#e8a083"/><rect x="1208.58" y="330.95" width="30.69" height="32.48" fill="#d06c56"/><rect x="1239.27" y="330.95" width="30.69" height="32.48" fill="#ebab8f"/><rect x="1269.96" y="330.95" width="30.69" height="32.48" fill="#d27059"/><rect x="1300.65" y="330.95" width="30.69" height="32.48" fill="#bf4f43"/><rect x="1331.35" y="330.95" width="30.69" height="32.48" fill="#e9a487"/><rect x="1362.04" y="330.95" width="30.69" height="32.48" fill="#cb6250"/><rect x="1392.73" y="330.95" width="30.69" height="32.48" fill="#ebab8f"/><rect x="1423.42" y="330.95" width="30.69" height="32.48" fill="#d06c56"/><rect x="1454.12" y="330.95" width="30.69" height="32.48" fill="#bb493f"/><rect x="1484.81" y="330.95" width="30.69" height="32.48" fill="#cd6652"/><rect x="1515.50" y="330.95" width="30.69" height="32.48" fill="#c95f4d"/><rect x="1546.19" y="330.95" width="30.69" height="32.48" fill="#d3715b"/><rect x="1576.88" y="330.95" width="30.69" height="32.48" fill="#c95f4d"/><rect x="1607.58" y="330.95" width="30.69" height="32.48" fill="#d3715b"/><rect x="1638.27" y="330.95" width="30.69" height="32.48" fill="#d4735c"/><rect x="1668.96" y="330.95" width="30.69" height="32.48" fill="#c45748"/><rect x="1699.65" y="330.95" width="30.69" height="32.48" fill="#bb493f"/><rect x="1730.35" y="330.95" width="30.69" height="32.48" fill="#c85d4c"/><rect x="1761.04" y="330.95" width="30.69" height="32.48" fill="#c75b4b"/><rect x="1791.73" y="330.95" width="30.69" height="32.48" fill="#c45748"/><rect x="1822.42" y="330.95" width="30.69" height="32.48" fill="#df886d"/><rect x="1853.12" y="330.95" width="30.69" height="32.48" fill="#e08a6e"/><rect x="1883.81" y="330.95" width="30.69" height="32.48" fill="#e79b7e"/><rect x="1116.50" y="363.43" width="30.69" height="32.48" fill="#ebccba"/><rect x="1147.19" y="363.43" width="30.69" height="32.48" fill="#ebccba"/><rect x="1177.88" y="363.43" width="30.69" height="32.48" fill="#e9d1c2"/><rect x="1208.58" y="363.43" width="30.69" height="32.48" fill="#edc5af"/><rect x="1239.27" y="363.43" width="30.69" height="32.48" fill="#9fb9f9"/><rect x="1269.96" y="363.43" width="30.69" height="32.48" fill="#edc7b2"/><rect x="1300.65" y="363.43" width="30.69" height="32.48" fill="#edc3ac"/><rect x="1331.35" y="363.43" width="30.69" height="32.48" fill="#e9d2c4"/><rect x="1362.04" y="363.43" width="30.69" height="32.48" fill="#eccbb8"/><rect x="1392.73" y="363.43" width="30.69" height="32.48" fill="#eccab7"/><rect x="1423.42" y="363.43" width="30.69" height="32.48" fill="#edb79c"/><rect x="1454.12" y="363.43" width="30.69" height="32.48" fill="#edbca2"/><rect x="1484.81" y="363.43" width="30.69" height="32.48" fill="#edbda3"/><rect x="1515.50" y="363.43" width="30.69" height="32.48" fill="#ebccba"/><rect x="1546.19" y="363.43" width="30.69" height="32.48" fill="#e9d0c1"/><rect x="1576.88" y="363.43" width="30.69" height="32.48" fill="#edc1a9"/><rect x="1607.58" y="363.43" width="30.69" height="32.48" fill="#edbfa6"/><rect x="1638.27" y="363.43" width="30.69" height="32.48" fill="#dfdcd9"/><rect x="1668.96" y="363.43" width="30.69" height="32.48" fill="#ecc8b4"/><rect x="1699.65" y="363.43" width="30.69" height="32.48" fill="#e9d0c1"/><rect x="1730.35" y="363.43" width="30.69" height="32.48" fill="#eccab7"/><rect x="1761.04" y="363.43" width="30.69" height="32.48" fill="#edc5af"/><rect x="1791.73" y="363.43" width="30.69" height="32.48" fill="#ecaf93"/><rect x="1822.42" y="363.43" width="30.69" height="32.48" fill="#edbfa6"/><rect x="1853.12" y="363.43" width="30.69" height="32.48" fill="#edbda3"/><rect x="1883.81" y="363.43" width="30.69" height="32.48" fill="#e9d1c2"/></g>
<g><text class="a d" transform="translate(190.00 25.00) scale(.1)">0.44</text><text class="a w" transform="translate(228.19 25.00) scale(.1)">0.56</text><text class="a d" transform="translate(266.39 25.00) scale(.1)">0.24</text><text class="a d" transform="translate(304.59 25.00) scale(.1)">0.19</text><text class="a w" transform="translate(342.78 25.00) scale(.1)">0.67</text><text class="a d" transform="translate(380.98 25.00) scale(.1)">0.29</text><text class="a d" transform="translate(419.17 25.00) scale(.1)">0.43</text><text class="a d" transform="translate(457.37 25.00) scale(.1)">0.10</text><text class="a w" transform="translate(495.56 25.00) scale(.1)">0.58</text><text class="a w" transform="translate(533.76 25.00) scale(.1)">0.74</text><text class="a w" transform="translate(571.96 25.00) scale(.1)">0.51</text><text class="a w" transform="translate(610.15 25.00) scale(.1)">0.59</text><text class="a w" transform="translate(648.35 25.00) scale(.1)">0.66</text><text class="a d" transform="translate(686.54 25.00) scale(.1)">0.29</text><text class="a w" transform="translate(724.74 25.00) scale(.1)">0.77</text><text class="a w" transform="translate(762.94 25.00) scale(.1)">0.73</text><text class="a d" transform="translate(801.13 25.00) scale(.1)">0.41</text><text class="a w" transform="translate(839.33 25.00) scale(.1)">0.51</text><text class="a w" transform="translate(877.52 25.00) scale(.1)">0.59</text><text class="a w" transform="translate(915.72 25.00) scale(.1)">0.66</text><text class="a w" transform="translate(953.91 25.00) scale(.1)">0.71</text><text class="a w" transform="translate(992.11 25.00) scale(.1)">0.68</text><text class="a w" transform="translate(1030.31 25.00) scale(.1)">0.71</text><text class="a d" transform="translate(1068.50 25.00) scale(.1)">0.49</text><text class="a d" transform="translate(190.00 57.53) scale(.1)">0.44</text><text class="a d" transform="translate(228.19 57.53) scale(.1)">0.48</text><text class="a d" transform="translate(266.39 57.53) scale(.1)">0.29</text><text class="a d" transform="translate(304.59 57.53) scale(.1)">0.33</text><text class="a w" transform="translate(342.78 57.53) scale(.1)">0.62</text><text class="a d" transform="translate(380.98 57.53) scale(.1)">0.32</text><text class="a d" transform="translate(419.17 57.53) scale(.1)">0.32</text><text class="a d" transform="translate(457.37 57.53) scale(.1)">0.18</text><text class="a w" transform="translate(495.56 57.53) scale(.1)">0.65</text><text class="a w" transform="translate(533.76 57.53) scale(.1)">0.71</text><text class="a w" transform="translate(571.96 57.53) scale(.1)">0.51</text><text class="a w" transform="translate(610.15 57.53) scale(.1)">0.63</text><text class="a w" transform="translate(648.35 57.53) scale(.1)">0.68</text><text class="a d" transform="translate(686.54 57.53) scale(.1)">0.27</text><text class="a w" transform="translate(724.74 57.53) scale(.1)">0.68</text><text class="a w" transform="translate(762.94 57.53) scale(.1)">0.54</text><text class="a d" transform="translate(801.13 57.53) scale(.1)">0.43</text><text class="a w" transform="translate(839.33 57.53) scale(.1)">0.54</text><text class="a w" transform="translate(877.52 57.53) scale(.1)">0.60</text><text class="a w" transform="translate(915.72 57.53) scale(.1)">0.61</text><text class="a w" transform="translate(953.91 57.53) scale(.1)">0.63</text><text class="a d" transform="translate(992.11 57.53) scale(.1)">0.49</text><text class="a d" transform="translate(1030.31 57.53) scale(.1)">0.44</text><text class="a d" transform="translate(1068.50 57.53) scale(.1)">0.34</text><text class="a d" transform="translate(190.00 90.06) scale(.1)">0.21</text><text class="a d" transform="translate(228.19 90.06) scale(.1)">0.21</text><text class="a d" transform="translate(266.39 90.06) scale(.1)">0.12</text><text class="a d" transform="translate(304.59 90.06) scale(.1)">0.03</text><text class="a d" transform="translate(342.78 90.06) scale(.1)">0.18</text><text class="a d" transform="translate(380.98 90.06) scale(.1)">0.10</text><text class="a d" transform="translate(419.17 90.06) scale(.1)">0.14</text><text class="a d" transform="translate(457.37 90.06) scale(.1)">0.03</text><text class="a d" transform="translate(495.56 90.06) scale(.1)">0.34</text><text class="a d" transform="translate(533.76 90.06) scale(.1)">0.24</text><text class="a d" transform="translate(571.96 90.06) scale(.1)">0.32</text><text class="a d" transform="translate(610.15 90.06) scale(.1)">0.28</text><text class="a d" transform="translate(648.35 90.06) scale(.1)">0.21</text><text class="a d" transform="translate(686.54 90.06) scale(.1)">0.09</text><text class="a d" transform="translate(724.74 90.06) scale(.1)">0.20</text><text class="a d" transform="translate(762.94 90.06) scale(.1)">0.19</text><text class="a d" transform="translate(801.13 90.06) scale(.1)">0.16</text><text class="a d" transform="translate(839.33 90.06) scale(.1)">0.23</text><text class="a d" transform="translate(877.52 90.06) scale(.1)">0.23</text><text class="a d" transform="translate(915.72 90.06) scale(.1)">0.29</text><text class="a d" transform="translate(953.91 90.06) scale(.1)">0.26</text><text class="a d" transform="translate(992.11 90.06) scale(.1)">0.28</text><text class="a d" transform="translate(1030.31 90.06) scale(.1)">0.25</text><text class="a d" transform="translate(1068.50 90.06) scale(.1)">0.21</text><text class="a d" transform="translate(190.00 122.59) scale(.1)">0.25</text><text class="a d" transform="translate(228.19 122.59) scale(.1)">0.27</text><text class="a d" transform="translate(266.39 122.59) scale(.1)">0.15</text><text class="a d" transform="translate(304.59 122.59) scale(.1)">0.14</text><text class="a d" transform="translate(342.78 122.59) scale(.1)">0.44</text><text class="a d" transform="translate(380.98 122.59) scale(.1)">0.19</text><text class="a d" transform="translate(419.17 122.59) scale(.1)">0.19</text><text class="a d" transform="translate(457.37 122.59) scale(.1)">0.04</text><text class="a d" transform="translate(495.56 122.59) scale(.1)">0.48</text><text class="a d" transform="translate(533.76 122.59) scale(.1)">0.49</text><text class="a d" transform="translate(571.96 122.59) scale(.1)">0.32</text><text class="a d" transform="translate(610.15 122.59) scale(.1)">0.33</text><text class="a d" transform="translate(648.35 122.59) scale(.1)">0.41</text><text class="a d" transform="translate(686.54 122.59) scale(.1)">0.11</text><text class="a d" transform="translate(724.74 122.59) scale(.1)">0.46</text><text class="a d" transform="translate(762.94 122.59) scale(.1)">0.43</text><text class="a d" transform="translate(801.13 122.59) scale(.1)">0.13</text><text class="a d" transform="translate(839.33 122.59) scale(.1)">0.29</text><text class="a d" transform="translate(877.52 122.59) scale(.1)">0.36</text><text class="a d" transform="translate(915.72 122.59) scale(.1)">0.44</text><text class="a d" transform="translate(953.91 122.59) scale(.1)">0.40</text><text class="a d" transform="translate(992.11 122.59) scale(.1)">0.43</text><text class="a d" transform="translate(1030.31 122.59) scale(.1)">0.36</text><text class="a d" transform="translate(1068.50 122.59) scale(.1)">0.23</text><text class="a d" transform="translate(190.00 155.12) scale(.1)">0.31</text><text class="a d" transform="translate(228.19 155.12) scale(.1)">0.39</text><text class="a d" transform="translate(266.39 155.12) scale(.1)">0.15</text><text class="a d" transform="translate(304.59 155.12) scale(.1)">0.14</text><text class="a d" transform="translate(342.78 155.12) scale(.1)">0.46</text><text class="a d" transform="translate(380.98 155.12) scale(.1)">0.21</text><text class="a d" transform="translate(419.17 155.12) scale(.1)">0.38</text><text class="a d" transform="translate(457.37 155.12) scale(.1)">0.07</text><text class="a d" transform="translate(495.56 155.12) scale(.1)">0.42</text><text class="a w" transform="translate(533.76 155.12) scale(.1)">0.52</text><text class="a d" transform="translate(571.96 155.12) scale(.1)">0.43</text><text class="a d" transform="translate(610.15 155.12) scale(.1)">0.43</text><text class="a d" transform="translate(648.35 155.12) scale(.1)">0.48</text><text class="a d" transform="translate(686.54 155.12) scale(.1)">0.14</text><text class="a w" transform="translate(724.74 155.12) scale(.1)">0.56</text><text class="a w" transform="translate(762.94 155.12) scale(.1)">0.58</text><text class="a d" transform="translate(801.13 155.12) scale(.1)">0.29</text><text class="a d" transform="translate(839.33 155.12) scale(.1)">0.29</text><text class="a d" transform="translate(877.52 155.12) scale(.1)">0.46</text><text class="a w" transform="translate(915.72 155.12) scale(.1)">0.55</text><text class="a w" transform="translate(953.91 155.12) scale(.1)">0.61</text><text class="a w" transform="translate(992.11 155.12) scale(.1)">0.61</text><text class="a w" transform="translate(1030.31 155.12) scale(.1)">0.52</text><text class="a d" transform="translate(1068.50 155.12) scale(.1)">0.46</text><text class="a d" transform="translate(190.00 187.65) scale(.1)">0.11</text><text class="a d" transform="translate(228.19 187.65) scale(.1)">0.09</text><text class="a d" transform="translate(266.39 187.65) scale(.1)">-0.11</text><text class="a d" transform="translate(304.59 187.65) scale(.1)">-0.11</text><text class="a d" transform="translate(342.78 187.65) scale(.1)">0.14</text><text class="a d" transform="translate(380.98 187.65) scale(.1)">-0.11</text><text class="a d" transform="translate(419.17 187.65) scale(.1)">0.01</text><text class="a d" transform="translate(457.37 187.65) scale(.1)">-0.19</text><text class="a d" transform="translate(495.56 187.65) scale(.1)">0.23</text><text class="a d" transform="translate(533.76 187.65) scale(.1)">0.15</text><text class="a d" transform="translate(571.96 187.65) scale(.1)">0.12</text><text class="a d" transform="translate(610.15 187.65) scale(.1)">0.10</text><text class="a d" transform="translate(648.35 187.65) scale(.1)">0.13</text><text class="a d" transform="translate(686.54 187.65) scale(.1)">-0.08</text><text class="a d" transform="translate(724.74 187.65) scale(.1)">0.20</text><text class="a d" transform="translate(762.94 187.65) scale(.1)">0.27</text><text class="a d" transform="translate(801.13 187.65) scale(.1)">0.04</text><text class="a d" transform="translate(839.33 187.65) scale(.1)">0.20</text><text class="a d" transform="translate(877.52 187.65) scale(.1)">0.14</text><text class="a d" transform="translate(915.72 187.65) scale(.1)">0.17</text><text class="a d" transform="translate(953.91 187.65) scale(.1)">0.22</text><text class="a d" transform="translate(992.11 187.65) scale(.1)">0.25</text><text class="a d" transform="translate(1030.31 187.65) scale(.1)">0.23</text><text class="a d" transform="translate(1068.50 187.65) scale(.1)">0.10</text><text class="a d" transform="translate(190.00 220.18) scale(.1)">-0.19</text><text class="a d" transform="translate(228.19 220.18) scale(.1)">-0.33</text><text class="a d" transform="translate(266.39 220.18) scale(.1)">-0.27</text><text class="a d" transform="translate(304.59 220.18) scale(.1)">-0.32</text><text class="a w" transform="translate(342.78 220.18) scale(.1)">-0.52</text><text class="a d" transform="translate(380.98 220.18) scale(.1)">-0.29</text><text class="a d" transform="translate(419.17 220.18) scale(.1)">-0.23</text><text class="a d" transform="translate(457.37 220.18) scale(.1)">-0.23</text><text class="a d" transform="translate(495.56 220.18) scale(.1)">-0.40</text><text class="a w" transform="translate(533.76 220.18) scale(.1)">-0.63</text><text class="a d" transform="translate(571.96 220.18) scale(.1)">-0.37</text><text class="a w" transform="translate(610.15 220.18) scale(.1)">-0.55</text><text class="a w" transform="translate(648.35 220.18) scale(.1)">-0.49</text><text class="a d" transform="translate(686.54 220.18) scale(.1)">-0.20</text><text class="a w" transform="translate(724.74 220.18) scale(.1)">-0.53</text><text class="a d" transform="translate(762.94 220.18) scale(.1)">-0.41</text><text class="a d" transform="translate(801.13 220.18) scale(.1)">-0.48</text><text class="a d" transform="translate(839.33 220.18) scale(.1)">-0.25</text><text class="a d" transform="translate(877.52 220.18) scale(.1)">-0.35</text><text class="a w" transform="translate(915.72 220.18) scale(.1)">-0.55</text><text class="a d" transform="translate(953.91 220.18) scale(.1)">-0.48</text><text class="a d" transform="translate(992.11 220.18) scale(.1)">-0.47</text><text class="a d" transform="translate(1030.31 220.18) scale(.1)">-0.46</text><text class="a d" transform="translate(1068.50 220.18) scale(.1)">-0.49</text><text class="a d" transform="translate(190.00 252.71) scale(.1)">0.18</text><text class="a d" transform="translate(228.19 252.71) scale(.1)">0.28</text><text class="a d" transform="translate(266.39 252.71) scale(.1)">0.26</text><text class="a d" transform="translate(304.59 252.71) scale(.1)">0.26</text><text class="a d" transform="translate(342.78 252.71) scale(.1)">0.32</text><text class="a d" transform="translate(380.98 252.71) scale(.1)">0.33</text><text class="a d" transform="translate(419.17 252.71) scale(.1)">0.28</text><text class="a d" transform="translate(457.37 252.71) scale(.1)">0.19</text><text class="a d" transform="translate(495.56 252.71) scale(.1)">0.27</text><text class="a d" transform="translate(533.76 252.71) scale(.1)">0.39</text><text class="a d" transform="translate(571.96 252.71) scale(.1)">0.18</text><text class="a d" transform="translate(610.15 252.71) scale(.1)">0.27</text><text class="a d" transform="translate(648.35 252.71) scale(.1)">0.39</text><text class="a d" transform="translate(686.54 252.71) scale(.1)">0.23</text><text class="a d" transform="translate(724.74 252.71) scale(.1)">0.32</text><text class="a d" transform="translate(762.94 252.71) scale(.1)">0.34</text><text class="a d" transform="translate(801.13 252.71) scale(.1)">0.33</text><text class="a d" transform="translate(839.33 252.71) scale(.1)">0.21</text><text class="a d" transform="translate(877.52 252.71) scale(.1)">0.31</text><text class="a d" transform="translate(915.72 252.71) scale(.1)">0.35</text><text class="a d" transform="translate(953.91 252.71) scale(.1)">0.33</text><text class="a d" transform="translate(992.11 252.71) scale(.1)">0.29</text><text class="a d" transform="translate(1030.31 252.71) scale(.1)">0.34</text><text class="a d" transform="translate(1068.50 252.71) scale(.1)">0.19</text><text class="a d" transform="translate(190.00 285.24) scale(.1)">0.41</text><text class="a d" transform="translate(228.19 285.24) scale(.1)">0.49</text><text class="a d" transform="translate(266.39 285.24) scale(.1)">0.27</text><text class="a d" transform="translate(304.59 285.24) scale(.1)">0.26</text><text class="a w" transform="translate(342.78 285.24) scale(.1)">0.59</text><text class="a d" transform="translate(380.98 285.24) scale(.1)">0.31</text><text class="a d" transform="translate(419.17 285.24) scale(.1)">0.40</text><text class="a d" transform="translate(457.37 285.24) scale(.1)">0.15</text><text class="a w" transform="translate(495.56 285.24) scale(.1)">0.61</text><text class="a w" transform="translate(533.76 285.24) scale(.1)">0.67</text><text class="a d" transform="translate(571.96 285.24) scale(.1)">0.45</text><text class="a d" transform="translate(610.15 285.24) scale(.1)">0.45</text><text class="a w" transform="translate(648.35 285.24) scale(.1)">0.60</text><text class="a d" transform="translate(686.54 285.24) scale(.1)">0.24</text><text class="a w" transform="translate(724.74 285.24) scale(.1)">0.66</text><text class="a w" transform="translate(762.94 285.24) scale(.1)">0.68</text><text class="a d" transform="translate(801.13 285.24) scale(.1)">0.21</text><text class="a d" transform="translate(839.33 285.24) scale(.1)">0.41</text><text class="a w" transform="translate(877.52 285.24) scale(.1)">0.52</text><text class="a w" transform="translate(915.72 285.24) scale(.1)">0.66</text><text class="a w" transform="translate(953.91 285.24) scale(.1)">0.62</text><text class="a w" transform="translate(992.11 285.24) scale(.1)">0.68</text><text class="a w" transform="translate(1030.31 285.24) scale(.1)">0.69</text><text class="a d" transform="translate(1068.50 285.24) scale(.1)">0.48</text><text class="a d" transform="translate(190.00 317.77) scale(.1)">0.32</text><text class="a d" transform="translate(228.19 317.77) scale(.1)">0.36</text><text class="a d" transform="translate(266.39 317.77) scale(.1)">0.16</text><text class="a d" transform="translate(304.59 317.77) scale(.1)">0.10</text><text class="a d" transform="translate(342.78 317.77) scale(.1)">0.48</text><text class="a d" transform="translate(380.98 317.77) scale(.1)">0.17</text><text class="a d" transform="translate(419.17 317.77) scale(.1)">0.34</text><text class="a d" transform="translate(457.37 317.77) scale(.1)">-0.02</text><text class="a w" transform="translate(495.56 317.77) scale(.1)">0.51</text><text class="a w" transform="translate(533.76 317.77) scale(.1)">0.51</text><text class="a d" transform="translate(571.96 317.77) scale(.1)">0.42</text><text class="a d" transform="translate(610.15 317.77) scale(.1)">0.29</text><text class="a d" transform="translate(648.35 317.77) scale(.1)">0.45</text><text class="a d" transform="translate(686.54 317.77) scale(.1)">0.08</text><text class="a w" transform="translate(724.74 317.77) scale(.1)">0.54</text><text class="a w" transform="translate(762.94 317.77) scale(.1)">0.72</text><text class="a d" transform="translate(801.13 317.77) scale(.1)">0.11</text><text class="a d" transform="translate(839.33 317.77) scale(.1)">0.32</text><text class="a d" transform="translate(877.52 317.77) scale(.1)">0.41</text><text class="a w" transform="translate(915.72 317.77) scale(.1)">0.51</text><text class="a w" transform="translate(953.91 317.77) scale(.1)">0.53</text><text class="a w" transform="translate(992.11 317.77) scale(.1)">0.57</text><text class="a w" transform="translate(1030.31 317.77) scale(.1)">0.73</text><text class="a d" transform="translate(1068.50 317.77) scale(.1)">0.39</text><text class="a d" transform="translate(190.00 350.30) scale(.1)">0.46</text><text class="a w" transform="translate(228.19 350.30) scale(.1)">0.61</text><text class="a d" transform="translate(266.39 350.30) scale(.1)">0.26</text><text class="a d" transform="translate(304.59 350.30) scale(.1)">0.38</text><text class="a w" transform="translate(342.78 350.30) scale(.1)">0.72</text><text class="a d" transform="translate(380.98 350.30) scale(.1)">0.28</text><text class="a d" transform="translate(419.17 350.30) scale(.1)">0.43</text><text class="a d" transform="translate(457.37 350.30) scale(.1)">0.12</text><text class="a w" transform="translate(495.56 350.30) scale(.1)">0.75</text><text class="a w" transform="translate(533.76 350.30) scale(.1)">0.78</text><text class="a w" transform="translate(571.96 350.30) scale(.1)">0.53</text><text class="a w" transform="translate(610.15 350.30) scale(.1)">0.66</text><text class="a w" transform="translate(648.35 350.30) scale(.1)">0.75</text><text class="a d" transform="translate(686.54 350.30) scale(.1)">0.31</text><text class="a w" transform="translate(724.74 350.30) scale(.1)">0.80</text><text class="a w" transform="translate(762.94 350.30) scale(.1)">0.73</text><text class="a d" transform="translate(801.13 350.30) scale(.1)">0.36</text><text class="a w" transform="translate(839.33 350.30) scale(.1)">0.73</text><text class="a w" transform="translate(877.52 350.30) scale(.1)">0.59</text><text class="a w" transform="translate(915.72 350.30) scale(.1)">0.73</text><text class="a w" transform="translate(953.91 350.30) scale(.1)">0.72</text><text class="a w" transform="translate(992.11 350.30) scale(.1)">0.68</text><text class="a w" transform="translate(1030.31 350.30) scale(.1)">0.71</text><text class="a w" transform="translate(1068.50 350.30) scale(.1)">0.50</text><text class="a d" transform="translate(190.00 382.83) scale(.1)">0.30</text><text class="a d" transform="translate(228.19 382.83) scale(.1)">0.25</text><text class="a d" transform="translate(266.39 382.83) scale(.1)">0.20</text><text class="a d" transform="translate(304.59 382.83) scale(.1)">0.17</text><text class="a d" transform="translate(342.78 382.83) scale(.1)">0.36</text><text class="a d" transform="translate(380.98 382.83) scale(.1)">0.24</text><text class="a d" transform="translate(419.17 382.83) scale(.1)">0.17</text><text class="a d" transform="translate(457.37 382.83) scale(.1)">0.12</text><text class="a d" transform="translate(495.56 382.83) scale(.1)">0.42</text><text class="a d" transform="translate(533.76 382.83) scale(.1)">0.37</text><text class="a d" transform="translate(571.96 382.83) scale(.1)">0.17</text><text class="a d" transform="translate(610.15 382.83) scale(.1)">0.18</text><text class="a d" transform="translate(648.35 382.83) scale(.1)">0.33</text><text class="a d" transform="translate(686.54 382.83) scale(.1)">0.19</text><text class="a d" transform="translate(724.74 382.83) scale(.1)">0.38</text><text class="a d" transform="translate(762.94 382.83) scale(.1)">0.32</text><text class="a d" transform="translate(801.13 382.83) scale(.1)">0.01</text><text class="a d" transform="translate(839.33 382.83) scale(.1)">0.30</text><text class="a d" transform="translate(877.52 382.83) scale(.1)">0.30</text><text class="a d" transform="translate(915.72 382.83) scale(.1)">0.18</text><text class="a d" transform="translate(953.91 382.83) scale(.1)">0.27</text><text class="a d" transform="translate(992.11 382.83) scale(.1)">0.16</text><text class="a d" transform="translate(1030.31 382.83) scale(.1)">0.11</text><text class="a d" transform="translate(1068.50 382.83) scale(.1)">0.00</text><text class="a w" transform="translate(1131.85 25.00) scale(.1)">0.72</text><text class="a w" transform="translate(1162.54 25.00) scale(.1)">0.74</text><text class="a d" transform="translate(1193.23 25.00) scale(.1)">0.43</text><text class="a w" transform="translate(1223.92 25.00) scale(.1)">0.59</text><text class="a d" transform="translate(1254.62 25.00) scale(.1)">0.30</text><text class="a w" transform="translate(1285.31 25.00) scale(.1)">0.68</text><text class="a w" transform="translate(1316.00 25.00) scale(.1)">0.66</text><text class="a d" transform="translate(1346.69 25.00) scale(.1)">0.46</text><text class="a w" transform="translate(1377.38 25.00) scale(.1)">0.67</text><text class="a d" transform="translate(1408.08 25.00) scale(.1)">0.41</text><text class="a w" transform="translate(1438.77 25.00) scale(.1)">0.60</text><text class="a w" transform="translate(1469.46 25.00) scale(.1)">0.71</text><text class="a w" transform="translate(1500.15 25.00) scale(.1)">0.71</text><text class="a w" transform="translate(1530.85 25.00) scale(.1)">0.71</text><text class="a d" transform="translate(1561.54 25.00) scale(.1)">0.37</text><text class="a w" transform="translate(1592.23 25.00) scale(.1)">0.69</text><text class="a w" transform="translate(1622.92 25.00) scale(.1)">0.58</text><text class="a w" transform="translate(1653.62 25.00) scale(.1)">0.68</text><text class="a w" transform="translate(1684.31 25.00) scale(.1)">0.76</text><text class="a w" transform="translate(1715.00 25.00) scale(.1)">0.66</text><text class="a w" transform="translate(1745.69 25.00) scale(.1)">0.68</text><text class="a w" transform="translate(1776.38 25.00) scale(.1)">0.62</text><text class="a w" transform="translate(1807.08 25.00) scale(.1)">0.68</text><text class="a w" transform="translate(1837.77 25.00) scale(.1)">0.59</text><text class="a w" transform="translate(1868.46 25.00) scale(.1)">0.60</text><text class="a d" transform="translate(1899.15 25.00) scale(.1)">0.43</text><text class="a w" transform="translate(1131.85 57.53) scale(.1)">0.58</text><text class="a w" transform="translate(1162.54 57.53) scale(.1)">0.60</text><text class="a d" transform="translate(1193.23 57.53) scale(.1)">0.44</text><text class="a d" transform="translate(1223.92 57.53) scale(.1)">0.49</text><text class="a d" transform="translate(1254.62 57.53) scale(.1)">0.34</text><text class="a w" transform="translate(1285.31 57.53) scale(.1)">0.51</text><text class="a w" transform="translate(1316.00 57.53) scale(.1)">0.51</text><text class="a d" transform="translate(1346.69 57.53) scale(.1)">0.37</text><text class="a w" transform="translate(1377.38 57.53) scale(.1)">0.52</text><text class="a d" transform="translate(1408.08 57.53) scale(.1)">0.40</text><text class="a w" transform="translate(1438.77 57.53) scale(.1)">0.59</text><text class="a w" transform="translate(1469.46 57.53) scale(.1)">0.61</text><text class="a d" transform="translate(1500.15 57.53) scale(.1)">0.42</text><text class="a w" transform="translate(1530.85 57.53) scale(.1)">0.56</text><text class="a d" transform="translate(1561.54 57.53) scale(.1)">0.44</text><text class="a d" transform="translate(1592.23 57.53) scale(.1)">0.49</text><text class="a d" transform="translate(1622.92 57.53) scale(.1)">0.45</text><text class="a d" transform="translate(1653.62 57.53) scale(.1)">0.46</text><text class="a w" transform="translate(1684.31 57.53) scale(.1)">0.61</text><text class="a w" transform="translate(1715.00 57.53) scale(.1)">0.57</text><text class="a w" transform="translate(1745.69 57.53) scale(.1)">0.56</text><text class="a w" transform="translate(1776.38 57.53) scale(.1)">0.61</text><text class="a w" transform="translate(1807.08 57.53) scale(.1)">0.72</text><text class="a w" transform="translate(1837.77 57.53) scale(.1)">0.66</text><text class="a w" transform="translate(1868.46 57.53) scale(.1)">0.66</text><text class="a w" transform="translate(1899.15 57.53) scale(.1)">0.50</text><text class="a d" transform="translate(1131.85 90.06) scale(.1)">0.27</text><text class="a d" transform="translate(1162.54 90.06) scale(.1)">0.24</text><text class="a d" transform="translate(1193.23 90.06) scale(.1)">0.36</text><text class="a d" transform="translate(1223.92 90.06) scale(.1)">0.29</text><text class="a d" transform="translate(1254.62 90.06) scale(.1)">-0.29</text><text class="a d" transform="translate(1285.31 90.06) scale(.1)">0.36</text><text class="a d" transform="translate(1316.00 90.06) scale(.1)">0.31</text><text class="a d" transform="translate(1346.69 90.06) scale(.1)">-0.12</text><text class="a d" transform="translate(1377.38 90.06) scale(.1)">0.17</text><text class="a d" transform="translate(1408.08 90.06) scale(.1)">-0.11</text><text class="a d" transform="translate(1438.77 90.06) scale(.1)">0.25</text><text class="a d" transform="translate(1469.46 90.06) scale(.1)">0.22</text><text class="a d" transform="translate(1500.15 90.06) scale(.1)">0.27</text><text class="a d" transform="translate(1530.85 90.06) scale(.1)">0.28</text><text class="a d" transform="translate(1561.54 90.06) scale(.1)">0.28</text><text class="a d" transform="translate(1592.23 90.06) scale(.1)">0.35</text><text class="a d" transform="translate(1622.92 90.06) scale(.1)">0.34</text><text class="a d" transform="translate(1653.62 90.06) scale(.1)">0.22</text><text class="a d" transform="translate(1684.31 90.06) scale(.1)">0.28</text><text class="a d" transform="translate(1715.00 90.06) scale(.1)">0.29</text><text class="a d" transform="translate(1745.69 90.06) scale(.1)">0.09</text><text class="a d" transform="translate(1776.38 90.06) scale(.1)">0.32</text><text class="a d" transform="translate(1807.08 90.06) scale(.1)">0.27</text><text class="a d" transform="translate(1837.77 90.06) scale(.1)">0.34</text><text class="a d" transform="translate(1868.46 90.06) scale(.1)">0.33</text><text class="a d" transform="translate(1899.15 90.06) scale(.1)">0.06</text><text class="a d" transform="translate(1131.85 122.59) scale(.1)">0.47</text><text class="a d" transform="translate(1162.54 122.59) scale(.1)">0.42</text><text class="a d" transform="translate(1193.23 122.59) scale(.1)">0.36</text><text class="a d" transform="translate(1223.92 122.59) scale(.1)">0.44</text><text class="a d" transform="translate(1254.62 122.59) scale(.1)">0.11</text><text class="a d" transform="translate(1285.31 122.59) scale(.1)">0.47</text><text class="a d" transform="translate(1316.00 122.59) scale(.1)">0.40</text><text class="a d" transform="translate(1346.69 122.59) scale(.1)">0.16</text><text class="a d" transform="translate(1377.38 122.59) scale(.1)">0.39</text><text class="a d" transform="translate(1408.08 122.59) scale(.1)">0.12</text><text class="a d" transform="translate(1438.77 122.59) scale(.1)">0.38</text><text class="a d" transform="translate(1469.46 122.59) scale(.1)">0.40</text><text class="a d" transform="translate(1500.15 122.59) scale(.1)">0.41</text><text class="a d" transform="translate(1530.85 122.59) scale(.1)">0.41</text><text class="a d" transform="translate(1561.54 122.59) scale(.1)">0.40</text><text class="a w" transform="translate(1592.23 122.59) scale(.1)">0.51</text><text class="a w" transform="translate(1622.92 122.59) scale(.1)">0.61</text><text class="a d" transform="translate(1653.62 122.59) scale(.1)">0.34</text><text class="a w" transform="translate(1684.31 122.59) scale(.1)">0.57</text><text class="a d" transform="translate(1715.00 122.59) scale(.1)">0.36</text><text class="a w" transform="translate(1745.69 122.59) scale(.1)">0.69</text><text class="a w" transform="translate(1776.38 122.59) scale(.1)">0.55</text><text class="a d" transform="translate(1807.08 122.59) scale(.1)">0.44</text><text class="a d" transform="translate(1837.77 122.59) scale(.1)">0.41</text><text class="a d" transform="translate(1868.46 122.59) scale(.1)">0.42</text><text class="a d" transform="translate(1899.15 122.59) scale(.1)">0.25</text><text class="a d" transform="translate(1131.85 155.12) scale(.1)">0.47</text><text class="a w" transform="translate(1162.54 155.12) scale(.1)">0.62</text><text class="a d" transform="translate(1193.23 155.12) scale(.1)">0.32</text><text class="a w" transform="translate(1223.92 155.12) scale(.1)">0.51</text><text class="a d" transform="translate(1254.62 155.12) scale(.1)">0.39</text><text class="a w" transform="translate(1285.31 155.12) scale(.1)">0.54</text><text class="a d" transform="translate(1316.00 155.12) scale(.1)">0.39</text><text class="a d" transform="translate(1346.69 155.12) scale(.1)">0.41</text><text class="a w" transform="translate(1377.38 155.12) scale(.1)">0.57</text><text class="a d" transform="translate(1408.08 155.12) scale(.1)">0.30</text><text class="a d" transform="translate(1438.77 155.12) scale(.1)">0.44</text><text class="a d" transform="translate(1469.46 155.12) scale(.1)">0.43</text><text class="a w" transform="translate(1500.15 155.12) scale(.1)">0.61</text><text class="a w" transform="translate(1530.85 155.12) scale(.1)">0.59</text><text class="a d" transform="translate(1561.54 155.12) scale(.1)">0.40</text><text class="a w" transform="translate(1592.23 155.12) scale(.1)">0.57</text><text class="a d" transform="translate(1622.92 155.12) scale(.1)">0.43</text><text class="a w" transform="translate(1653.62 155.12) scale(.1)">0.57</text><text class="a w" transform="translate(1684.31 155.12) scale(.1)">0.53</text><text class="a d" transform="translate(1715.00 155.12) scale(.1)">0.46</text><text class="a w" transform="translate(1745.69 155.12) scale(.1)">0.50</text><text class="a w" transform="translate(1776.38 155.12) scale(.1)">0.63</text><text class="a d" transform="translate(1807.08 155.12) scale(.1)">0.46</text><text class="a w" transform="translate(1837.77 155.12) scale(.1)">0.55</text><text class="a w" transform="translate(1868.46 155.12) scale(.1)">0.54</text><text class="a d" transform="translate(1899.15 155.12) scale(.1)">0.36</text><text class="a d" transform="translate(1131.85 187.65) scale(.1)">0.10</text><text class="a d" transform="translate(1162.54 187.65) scale(.1)">0.24</text><text class="a d" transform="translate(1193.23 187.65) scale(.1)">-0.10</text><text class="a d" transform="translate(1223.92 187.65) scale(.1)">0.28</text><text class="a d" transform="translate(1254.62 187.65) scale(.1)">-0.14</text><text class="a d" transform="translate(1285.31 187.65) scale(.1)">0.37</text><text class="a d" transform="translate(1316.00 187.65) scale(.1)">0.37</text><text class="a d" transform="translate(1346.69 187.65) scale(.1)">0.20</text><text class="a d" transform="translate(1377.38 187.65) scale(.1)">0.27</text><text class="a d" transform="translate(1408.08 187.65) scale(.1)">0.15</text><text class="a d" transform="translate(1438.77 187.65) scale(.1)">0.11</text><text class="a d" transform="translate(1469.46 187.65) scale(.1)">0.23</text><text class="a d" transform="translate(1500.15 187.65) scale(.1)">0.38</text><text class="a d" transform="translate(1530.85 187.65) scale(.1)">0.21</text><text class="a d" transform="translate(1561.54 187.65) scale(.1)">0.07</text><text class="a d" transform="translate(1592.23 187.65) scale(.1)">0.41</text><text class="a d" transform="translate(1622.92 187.65) scale(.1)">0.36</text><text class="a d" transform="translate(1653.62 187.65) scale(.1)">0.11</text><text class="a d" transform="translate(1684.31 187.65) scale(.1)">0.10</text><text class="a d" transform="translate(1715.00 187.65) scale(.1)">0.19</text><text class="a d" transform="translate(1745.69 187.65) scale(.1)">0.05</text><text class="a d" transform="translate(1776.38 187.65) scale(.1)">0.22</text><text class="a d" transform="translate(1807.08 187.65) scale(.1)">0.15</text><text class="a d" transform="translate(1837.77 187.65) scale(.1)">0.21</text><text class="a d" transform="translate(1868.46 187.65) scale(.1)">0.21</text><text class="a d" transform="translate(1899.15 187.65) scale(.1)">-0.02</text><text class="a w" transform="translate(1131.85 220.18) scale(.1)">-0.50</text><text class="a w" transform="translate(1162.54 220.18) scale(.1)">-0.49</text><text class="a d" transform="translate(1193.23 220.18) scale(.1)">-0.47</text><text class="a d" transform="translate(1223.92 220.18) scale(.1)">-0.29</text><text class="a w" transform="translate(1254.62 220.18) scale(.1)">-0.73</text><text class="a d" transform="translate(1285.31 220.18) scale(.1)">-0.33</text><text class="a d" transform="translate(1316.00 220.18) scale(.1)">-0.16</text><text class="a d" transform="translate(1346.69 220.18) scale(.1)">-0.35</text><text class="a d" transform="translate(1377.38 220.18) scale(.1)">-0.35</text><text class="a d" transform="translate(1408.08 220.18) scale(.1)">-0.39</text><text class="a d" transform="translate(1438.77 220.18) scale(.1)">-0.44</text><text class="a d" transform="translate(1469.46 220.18) scale(.1)">-0.42</text><text class="a d" transform="translate(1500.15 220.18) scale(.1)">-0.19</text><text class="a w" transform="translate(1530.85 220.18) scale(.1)">-0.51</text><text class="a d" transform="translate(1561.54 220.18) scale(.1)">-0.45</text><text class="a d" transform="translate(1592.23 220.18) scale(.1)">-0.21</text><text class="a d" transform="translate(1622.92 220.18) scale(.1)">-0.27</text><text class="a w" transform="translate(1653.62 220.18) scale(.1)">-0.59</text><text class="a w" transform="translate(1684.31 220.18) scale(.1)">-0.57</text><text class="a w" transform="translate(1715.00 220.18) scale(.1)">-0.51</text><text class="a w" transform="translate(1745.69 220.18) scale(.1)">-0.66</text><text class="a w" transform="translate(1776.38 220.18) scale(.1)">-0.58</text><text class="a w" transform="translate(1807.08 220.18) scale(.1)">-0.50</text><text class="a d" transform="translate(1837.77 220.18) scale(.1)">-0.46</text><text class="a d" transform="translate(1868.46 220.18) scale(.1)">-0.46</text><text class="a d" transform="translate(1899.15 220.18) scale(.1)">-0.44</text><text class="a d" transform="translate(1131.85 252.71) scale(.1)">0.33</text><text class="a d" transform="translate(1162.54 252.71) scale(.1)">0.28</text><text class="a d" transform="translate(1193.23 252.71) scale(.1)">0.40</text><text class="a d" transform="translate(1223.92 252.71) scale(.1)">0.13</text><text class="a w" transform="translate(1254.62 252.71) scale(.1)">0.54</text><text class="a d" transform="translate(1285.31 252.71) scale(.1)">0.15</text><text class="a d" transform="translate(1316.00 252.71) scale(.1)">0.20</text><text class="a d" transform="translate(1346.69 252.71) scale(.1)">0.11</text><text class="a d" transform="translate(1377.38 252.71) scale(.1)">0.20</text><text class="a d" transform="translate(1408.08 252.71) scale(.1)">0.12</text><text class="a d" transform="translate(1438.77 252.71) scale(.1)">0.31</text><text class="a d" transform="translate(1469.46 252.71) scale(.1)">0.23</text><text class="a d" transform="translate(1500.15 252.71) scale(.1)">0.20</text><text class="a d" transform="translate(1530.85 252.71) scale(.1)">0.33</text><text class="a d" transform="translate(1561.54 252.71) scale(.1)">0.31</text><text class="a d" transform="translate(1592.23 252.71) scale(.1)">0.16</text><text class="a d" transform="translate(1622.92 252.71) scale(.1)">0.30</text><text class="a d" transform="translate(1653.62 252.71) scale(.1)">0.38</text><text class="a d" transform="translate(1684.31 252.71) scale(.1)">0.42</text><text class="a d" transform="translate(1715.00 252.71) scale(.1)">0.23</text><text class="a d" transform="translate(1745.69 252.71) scale(.1)">0.28</text><text class="a d" transform="translate(1776.38 252.71) scale(.1)">0.44</text><text class="a d" transform="translate(1807.08 252.71) scale(.1)">0.36</text><text class="a d" transform="translate(1837.77 252.71) scale(.1)">0.26</text><text class="a d" transform="translate(1868.46 252.71) scale(.1)">0.26</text><text class="a w" transform="translate(1899.15 252.71) scale(.1)">0.51</text><text class="a w" transform="translate(1131.85 285.24) scale(.1)">0.73</text><text class="a w" transform="translate(1162.54 285.24) scale(.1)">0.68</text><text class="a w" transform="translate(1193.23 285.24) scale(.1)">0.52</text><text class="a d" transform="translate(1223.92 285.24) scale(.1)">0.44</text><text class="a d" transform="translate(1254.62 285.24) scale(.1)">0.45</text><text class="a w" transform="translate(1285.31 285.24) scale(.1)">0.63</text><text class="a w" transform="translate(1316.00 285.24) scale(.1)">0.53</text><text class="a d" transform="translate(1346.69 285.24) scale(.1)">0.42</text><text class="a w" transform="translate(1377.38 285.24) scale(.1)">0.55</text><text class="a d" transform="translate(1408.08 285.24) scale(.1)">0.39</text><text class="a w" transform="translate(1438.77 285.24) scale(.1)">0.56</text><text class="a w" transform="translate(1469.46 285.24) scale(.1)">0.55</text><text class="a w" transform="translate(1500.15 285.24) scale(.1)">0.67</text><text class="a w" transform="translate(1530.85 285.24) scale(.1)">0.67</text><text class="a d" transform="translate(1561.54 285.24) scale(.1)">0.42</text><text class="a w" transform="translate(1592.23 285.24) scale(.1)">0.59</text><text class="a w" transform="translate(1622.92 285.24) scale(.1)">0.64</text><text class="a w" transform="translate(1653.62 285.24) scale(.1)">0.66</text><text class="a w" transform="translate(1684.31 285.24) scale(.1)">0.78</text><text class="a w" transform="translate(1715.00 285.24) scale(.1)">0.58</text><text class="a w" transform="translate(1745.69 285.24) scale(.1)">0.90</text><text class="a w" transform="translate(1776.38 285.24) scale(.1)">0.67</text><text class="a w" transform="translate(1807.08 285.24) scale(.1)">0.56</text><text class="a d" transform="translate(1837.77 285.24) scale(.1)">0.48</text><text class="a w" transform="translate(1868.46 285.24) scale(.1)">0.49</text><text class="a d" transform="translate(1899.15 285.24) scale(.1)">0.47</text><text class="a w" transform="translate(1131.85 317.77) scale(.1)">0.65</text><text class="a w" transform="translate(1162.54 317.77) scale(.1)">0.57</text><text class="a w" transform="translate(1193.23 317.77) scale(.1)">0.49</text><text class="a w" transform="translate(1223.92 317.77) scale(.1)">0.50</text><text class="a d" transform="translate(1254.62 317.77) scale(.1)">-0.02</text><text class="a w" transform="translate(1285.31 317.77) scale(.1)">0.64</text><text class="a w" transform="translate(1316.00 317.77) scale(.1)">0.69</text><text class="a d" transform="translate(1346.69 317.77) scale(.1)">0.22</text><text class="a w" transform="translate(1377.38 317.77) scale(.1)">0.53</text><text class="a d" transform="translate(1408.08 317.77) scale(.1)">0.10</text><text class="a d" transform="translate(1438.77 317.77) scale(.1)">0.43</text><text class="a w" transform="translate(1469.46 317.77) scale(.1)">0.50</text><text class="a w" transform="translate(1500.15 317.77) scale(.1)">0.82</text><text class="a w" transform="translate(1530.85 317.77) scale(.1)">0.59</text><text class="a d" transform="translate(1561.54 317.77) scale(.1)">0.40</text><text class="a w" transform="translate(1592.23 317.77) scale(.1)">0.73</text><text class="a w" transform="translate(1622.92 317.77) scale(.1)">0.79</text><text class="a w" transform="translate(1653.62 317.77) scale(.1)">0.56</text><text class="a w" transform="translate(1684.31 317.77) scale(.1)">0.62</text><text class="a d" transform="translate(1715.00 317.77) scale(.1)">0.46</text><text class="a w" transform="translate(1745.69 317.77) scale(.1)">0.79</text><text class="a w" transform="translate(1776.38 317.77) scale(.1)">0.62</text><text class="a d" transform="translate(1807.08 317.77) scale(.1)">0.41</text><text class="a d" transform="translate(1837.77 317.77) scale(.1)">0.40</text><text class="a d" transform="translate(1868.46 317.77) scale(.1)">0.42</text><text class="a d" transform="translate(1899.15 317.77) scale(.1)">0.17</text><text class="a w" transform="translate(1131.85 350.30) scale(.1)">0.80</text><text class="a w" transform="translate(1162.54 350.30) scale(.1)">0.76</text><text class="a d" transform="translate(1193.23 350.30) scale(.1)">0.45</text><text class="a w" transform="translate(1223.92 350.30) scale(.1)">0.67</text><text class="a d" transform="translate(1254.62 350.30) scale(.1)">0.39</text><text class="a w" transform="translate(1285.31 350.30) scale(.1)">0.66</text><text class="a w" transform="translate(1316.00 350.30) scale(.1)">0.78</text><text class="a d" transform="translate(1346.69 350.30) scale(.1)">0.43</text><text class="a w" transform="translate(1377.38 350.30) scale(.1)">0.71</text><text class="a d" transform="translate(1408.08 350.30) scale(.1)">0.39</text><text class="a w" transform="translate(1438.77 350.30) scale(.1)">0.67</text><text class="a w" transform="translate(1469.46 350.30) scale(.1)">0.80</text><text class="a w" transform="translate(1500.15 350.30) scale(.1)">0.69</text><text class="a w" transform="translate(1530.85 350.30) scale(.1)">0.72</text><text class="a w" transform="translate(1561.54 350.30) scale(.1)">0.65</text><text class="a w" transform="translate(1592.23 350.30) scale(.1)">0.72</text><text class="a w" transform="translate(1622.92 350.30) scale(.1)">0.65</text><text class="a w" transform="translate(1653.62 350.30) scale(.1)">0.64</text><text class="a w" transform="translate(1684.31 350.30) scale(.1)">0.75</text><text class="a w" transform="translate(1715.00 350.30) scale(.1)">0.80</text><text class="a w" transform="translate(1745.69 350.30) scale(.1)">0.73</text><text class="a w" transform="translate(1776.38 350.30) scale(.1)">0.74</text><text class="a w" transform="translate(1807.08 350.30) scale(.1)">0.75</text><text class="a w" transform="translate(1837.77 350.30) scale(.1)">0.56</text><text class="a w" transform="translate(1868.46 350.30) scale(.1)">0.55</text><text class="a d" transform="translate(1899.15 350.30) scale(.1)">0.47</text><text class="a d" transform="translate(1131.85 382.83) scale(.1)">0.18</text><text class="a d" transform="translate(1162.54 382.83) scale(.1)">0.18</text><text class="a d" transform="translate(1193.23 382.83) scale(.1)">0.14</text><text class="a d" transform="translate(1223.92 382.83) scale(.1)">0.23</text><text class="a d" transform="translate(1254.62 382.83) scale(.1)">-0.40</text><text class="a d" transform="translate(1285.31 382.83) scale(.1)">0.22</text><text class="a d" transform="translate(1316.00 382.83) scale(.1)">0.25</text><text class="a d" transform="translate(1346.69 382.83) scale(.1)">0.13</text><text class="a d" transform="translate(1377.38 382.83) scale(.1)">0.19</text><text class="a d" transform="translate(1408.08 382.83) scale(.1)">0.20</text><text class="a d" transform="translate(1438.77 382.83) scale(.1)">0.33</text><text class="a d" transform="translate(1469.46 382.83) scale(.1)">0.30</text><text class="a d" transform="translate(1500.15 382.83) scale(.1)">0.29</text><text class="a d" transform="translate(1530.85 382.83) scale(.1)">0.18</text><text class="a d" transform="translate(1561.54 382.83) scale(.1)">0.15</text><text class="a d" transform="translate(1592.23 382.83) scale(.1)">0.26</text><text class="a d" transform="translate(1622.92 382.83) scale(.1)">0.28</text><text class="a d" transform="translate(1653.62 382.83) scale(.1)">0.02</text><text class="a d" transform="translate(1684.31 382.83) scale(.1)">0.21</text><text class="a d" transform="translate(1715.00 382.83) scale(.1)">0.15</text><text class="a d" transform="translate(1745.69 382.83) scale(.1)">0.20</text><text class="a d" transform="translate(1776.38 382.83) scale(.1)">0.23</text><text class="a d" transform="translate(1807.08 382.83) scale(.1)">0.37</text><text class="a d" transform="translate(1837.77 382.83) scale(.1)">0.28</text><text class="a d" transform="translate(1868.46 382.83) scale(.1)">0.29</text><text class="a d" transform="translate(1899.15 382.83) scale(.1)">0.14</text></g>
<text class="yl" transform="translate(160.6 23.00) scale(0.0941 .1)">Boundary</text>
<text class="yl" transform="translate(160.6 55.70) scale(0.0925 .1)">Continuity</text>
<text class="yl" transform="translate(160.6 88.40) scale(0.0982 .1)">Permanence</text>
<text class="yl" transform="translate(160.6 121.10) scale(0.0944 .1)">Spatiality</text>
<text class="yl" transform="translate(160.6 153.80) scale(0.0959 .1)">Perceptual Constancy</text>
<text class="yl" transform="translate(160.6 186.50) scale(0.0933 .1)">Intuitive Physics</text>
<text class="yl" transform="translate(160.6 219.20) scale(0.0959 .1)">Perspective</text>
<text class="yl" transform="translate(160.6 251.90) scale(0.0950 .1)">Conservation</text>
<text class="yl" transform="translate(160.6 284.60) scale(0.0959 .1)">Hierarchy</text>
<text class="yl" transform="translate(160.6 317.30) scale(0.0969 .1)">Mechanical Reasoning</text>
<text class="yl" transform="translate(160.6 350.00) scale(0.0926 .1)">Intentionality</text>
<text class="yl" transform="translate(160.6 382.70) scale(0.0944 .1)">Tool Using</text>
<text class="xl" transform="translate(189.00 411.70) rotate(-45) scale(.1)">Function Reasoning</text>
<text class="xl" transform="translate(227.19 411.70) rotate(-45) scale(.1)">Future Prediction</text>
<text class="xl" transform="translate(265.39 411.70) rotate(-45) scale(.1)">Identity Reasoning</text>
<text class="xl" transform="translate(303.59 411.70) rotate(-45) scale(.1)">Image Emotion</text>
<text class="xl" transform="translate(341.78 411.70) rotate(-45) scale(.1)">Image Quality</text>
<text class="xl" transform="translate(379.98 411.70) rotate(-45) scale(.1)">Image Scene</text>
<text class="xl" transform="translate(418.17 411.70) rotate(-45) scale(.1)">Image Style</text>
<text class="xl" transform="translate(456.37 411.70) rotate(-45) scale(.1)">Image Topic</text>
<text class="xl" transform="translate(494.56 411.70) rotate(-45) scale(.1)">Nature Relation</text>
<text class="xl" transform="translate(532.76 411.70) rotate(-45) scale(.1)">Object Localization</text>
<text class="xl" transform="translate(570.96 411.70) rotate(-45) scale(.1)">Physical Property Reasoning</text>
<text class="xl" transform="translate(609.15 411.70) rotate(-45) scale(.1)">Physical Relation</text>
<text class="xl" transform="translate(647.35 411.70) rotate(-45) scale(.1)">Scene Understanding</text>
<text class="xl" transform="translate(685.54 411.70) rotate(-45) scale(.1)">Social Relation</text>
<text class="xl" transform="translate(723.74 411.70) rotate(-45) scale(.1)">Spatial Relation</text>
<text class="xl" transform="translate(761.94 411.70) rotate(-45) scale(.1)">Spatial Relationship</text>
<text class="xl" transform="translate(800.13 411.70) rotate(-45) scale(.1)">Text Understanding</text>
<text class="xl" transform="translate(838.33 411.70) rotate(-45) scale(.1)">Visual Reasoning</text>
<text class="xl" transform="translate(876.52 411.70) rotate(-45) scale(.1)">Coarse Perception</text>
<text class="xl" transform="translate(914.72 411.70) rotate(-45) scale(.1)">Fine-grained Perception</text>
<text class="xl" transform="translate(952.91 411.70) rotate(-45) scale(.1)">Instance Reasoning</text>
<text class="xl" transform="translate(991.11 411.70) rotate(-45) scale(.1)">Logical Reasoning</text>
<text class="xl" transform="translate(1029.31 411.70) rotate(-45) scale(.1)">Math</text>
<text class="xl" transform="translate(1067.50 411.70) rotate(-45) scale(.1)">Science &amp; Technology</text>
<text class="xl" transform="translate(1129.95 414.00) rotate(-45) scale(.1)">ABench</text>
<text class="xl" transform="translate(1160.64 414.00) rotate(-45) scale(.1)">AI2D Diagram QA</text>
<text class="xl" transform="translate(1191.33 414.00) rotate(-45) scale(.1)">BLINK Entity Linking</text>
<text class="xl" transform="translate(1222.02 414.00) rotate(-45) scale(.1)">CCBench</text>
<text class="xl" transform="translate(1252.72 414.00) rotate(-45) scale(.1)">ChartQA (Test)</text>
<text class="xl" transform="translate(1283.41 414.00) rotate(-45) scale(.1)">HallusionBench</text>
<text class="xl" transform="translate(1314.10 414.00) rotate(-45) scale(.1)">LLaVA-Bench</text>
<text class="xl" transform="translate(1344.79 414.00) rotate(-45) scale(.1)">MMBench Chinese</text>
<text class="xl" transform="translate(1375.48 414.00) rotate(-45) scale(.1)">MMBench V1.1 Chinese</text>
<text class="xl" transform="translate(1406.18 414.00) rotate(-45) scale(.1)">MMBench English</text>
<text class="xl" transform="translate(1436.87 414.00) rotate(-45) scale(.1)">MMBench V1.1 English</text>
<text class="xl" transform="translate(1467.56 414.00) rotate(-45) scale(.1)">MME (Multimodal Evaluation)</text>
<text class="xl" transform="translate(1498.25 414.00) rotate(-45) scale(.1)">MMMU (Validation)</text>
<text class="xl" transform="translate(1528.95 414.00) rotate(-45) scale(.1)">MMStar Benchmark</text>
<text class="xl" transform="translate(1559.64 414.00) rotate(-45) scale(.1)">MMT-Bench (Validation)</text>
<text class="xl" transform="translate(1590.33 414.00) rotate(-45) scale(.1)">MMVet Benchmark</text>
<text class="xl" transform="translate(1621.02 414.00) rotate(-45) scale(.1)">Multi-Turn VQA</text>
<text class="xl" transform="translate(1651.72 414.00) rotate(-45) scale(.1)">MathVista</text>
<text class="xl" transform="translate(1682.41 414.00) rotate(-45) scale(.1)">QBench</text>
<text class="xl" transform="translate(1713.10 414.00) rotate(-45) scale(.1)">RealWorldQA</text>
<text class="xl" transform="translate(1743.79 414.00) rotate(-45) scale(.1)">SEED-Bench 2</text>
<text class="xl" transform="translate(1774.48 414.00) rotate(-45) scale(.1)">SEED-Bench 2 Plus</text>
<text class="xl" transform="translate(1805.18 414.00) rotate(-45) scale(.1)">SEED-Bench</text>
<text class="xl" transform="translate(1835.87 414.00) rotate(-45) scale(.1)">ScienceQA (Test)</text>
<text class="xl" transform="translate(1866.56 414.00) rotate(-45) scale(.1)">ScienceQA (Validation)</text>
<text class="xl" transform="translate(1897.25 414.00) rotate(-45) scale(.1)">TextVQA (Validation)</text>
<defs><linearGradient id="cbg" x1="0" y1="0" x2="0" y2="1"><stop offset="0.0000" stop-color="#a5222d"/><stop offset="0.0250" stop-color="#ae3133"/><stop offset="0.0500" stop-color="#b6403a"/><stop offset="0.0750" stop-color="#bf4f43"/><stop offset="0.1000" stop-color="#c75b4b"/><stop offset="0.1250" stop-color="#cd6652"/><stop offset="0.1500" stop-color="#d4735c"/><stop offset="0.1750" stop-color="#da7e64"/><stop offset="0.2000" stop-color="#e08a6e"/><stop offset="0.2250" stop-color="#e49377"/><stop offset="0.2500" stop-color="#e79d80"/><stop offset="0.2750" stop-color="#eaa78a"/><stop offset="0.3000" stop-color="#ecaf93"/><stop offset="0.3250" stop-color="#edb89d"/><stop offset="0.3500" stop-color="#edbfa6"/><stop offset="0.3750" stop-color="#edc5af"/><stop offset="0.4000" stop-color="#ebccba"/><stop offset="0.4250" stop-color="#e9d1c2"/><stop offset="0.4500" stop-color="#e5d6cc"/><stop offset="0.4750" stop-color="#e2dad4"/><stop offset="0.5000" stop-color="#dddcdc"/><stop offset="0.5250" stop-color="#d7dbe3"/><stop offset="0.5500" stop-color="#d1dae9"/><stop offset="0.5750" stop-color="#cad6ee"/><stop offset="0.6000" stop-color="#c4d3f2"/><stop offset="0.6250" stop-color="#bccef6"/><stop offset="0.6500" stop-color="#b5c9f8"/><stop offset="0.6750" stop-color="#adc4f9"/><stop offset="0.7000" stop-color="#a4bdf9"/><stop offset="0.7250" stop-color="#9cb6f9"/><stop offset="0.7500" stop-color="#93aef8"/><stop offset="0.7750" stop-color="#8ba6f5"/><stop offset="0.8000" stop-color="#839ef2"/><stop offset="0.8250" stop-color="#7994ed"/><stop offset="0.8500" stop-color="#718be9"/><stop offset="0.8750" stop-color="#6881e3"/><stop offset="0.9000" stop-color="#5f76db"/><stop offset="0.9250" stop-color="#576cd4"/><stop offset="0.9500" stop-color="#4e60cb"/><stop offset="0.9750" stop-color="#4656c2"/><stop offset="1.0000" stop-color="#3e4cb9"/></linearGradient></defs>
<rect x="1946.4" y="8.0" width="18.9" height="390.5" fill="url(#cbg)"/>
<line x1="1965.6" x2="1971.1" y1="44.08" y2="44.08" stroke="#262626" stroke-width="1.4"/>
<text class="cb" transform="translate(1974.5 48.08) scale(.1)">0.75</text>
<line x1="1965.6" x2="1971.1" y1="97.14" y2="97.14" stroke="#262626" stroke-width="1.4"/>
<text class="cb" transform="translate(1974.5 101.14) scale(.1)">0.50</text>
<line x1="1965.6" x2="1971.1" y1="150.19" y2="150.19" stroke="#262626" stroke-width="1.4"/>
<text class="cb" transform="translate(1974.5 154.19) scale(.1)">0.25</text>
<line x1="1965.6" x2="1971.1" y1="203.25" y2="203.25" stroke="#262626" stroke-width="1.4"/>
<text class="cb" transform="translate(1974.5 207.25) scale(.1)">0.00</text>
<line x1="1965.6" x2="1971.1" y1="256.31" y2="256.31" stroke="#262626" stroke-width="1.4"/>
<text class="cb" transform="translate(1974.5 260.31) scale(.1)">−0.25</text>
<line x1="1965.6" x2="1971.1" y1="309.36" y2="309.36" stroke="#262626" stroke-width="1.4"/>
<text class="cb" transform="translate(1974.5 313.36) scale(.1)">−0.50</text>
<line x1="1965.6" x2="1971.1" y1="362.42" y2="362.42" stroke="#262626" stroke-width="1.4"/>
<text class="cb" transform="translate(1974.5 366.42) scale(.1)">−0.75</text>
<rect x="67.4" y="193.8" width="1853.6" height="44.2" fill="none" stroke="#b00a0a" stroke-width="3.2"/>
</svg></body></html>
